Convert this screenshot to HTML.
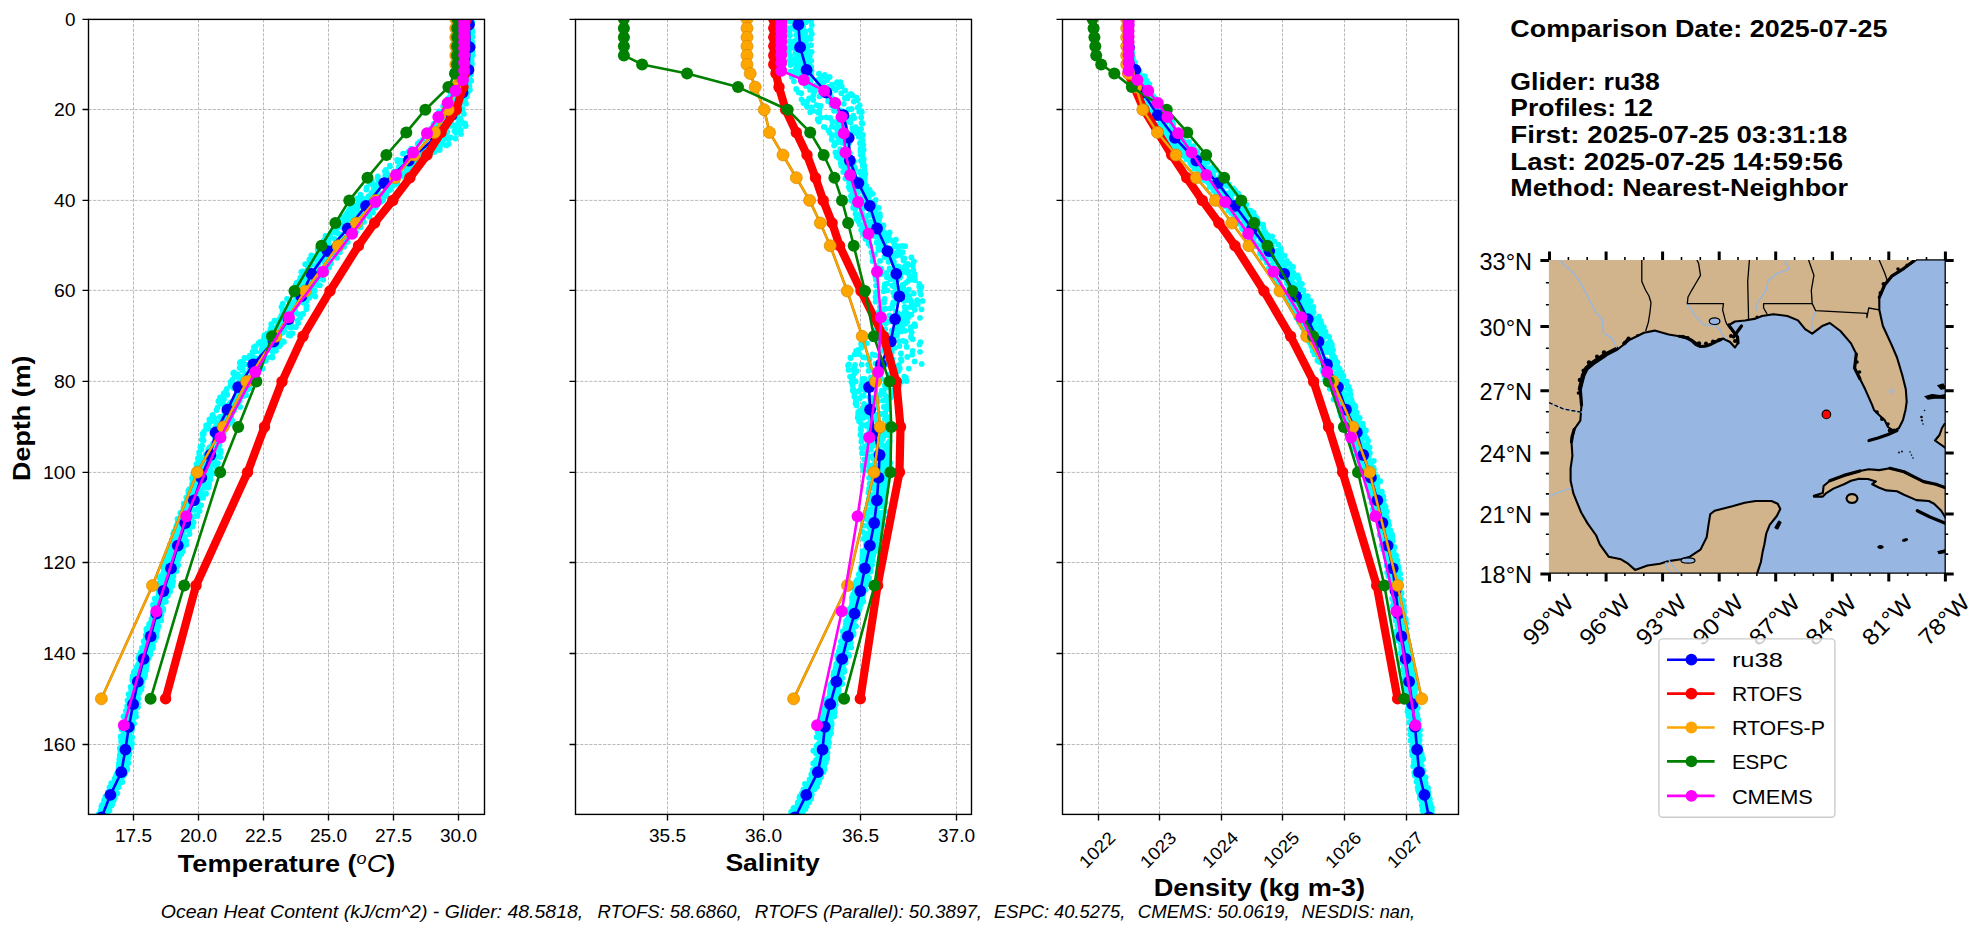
<!DOCTYPE html><html><head><meta charset="utf-8"><style>html,body{margin:0;padding:0;background:#fff;}svg{display:block;font-family:"Liberation Sans", sans-serif;}</style></head><body>
<svg width="1987" height="934" viewBox="0 0 1987 934">
<rect width="1987" height="934" fill="#fff"/>
<clipPath id="c0"><rect x="88.5" y="19.4" width="396" height="795"/></clipPath>
<path d="M133.5 19.4V814.4M198.5 19.4V814.4M263.5 19.4V814.4M328.5 19.4V814.4M393.5 19.4V814.4M458.5 19.4V814.4M88.5 19.4H484.5M88.5 109.5H484.5M88.5 200.4H484.5M88.5 290.4H484.5M88.5 381.4H484.5M88.5 472.4H484.5M88.5 562.5H484.5M88.5 653.5H484.5M88.5 744.5H484.5" stroke="#b0b0b0" stroke-width="0.87" stroke-dasharray="3.2 1.4" fill="none"/>
<g clip-path="url(#c0)">
<path d="M464.9 21.1h0M465.3 27.6h0M465.9 35h0M465 38.5h0M464.9 43.6h0M464.8 50.7h0M464 56.8h0M464.7 63.5h0M462.8 68.4h0M463.4 72.7h0M458.4 80.8h0M457.1 85.1h0M453.6 88.4h0M452.3 94.6h0M447.8 98.7h0M445.9 102.3h0M443.2 105.9h0M439 111.4h0M436.3 118.4h0M433.4 124.3h0M431.1 128.6h0M426.7 132h0M424.5 136.5h0M419.5 142h0M411.2 148.6h0M403.6 153.7h0M397.5 161.4h0M389.9 165.7h0M385.9 169.8h0M377.8 176.4h0M372 181.2h0M366.7 187.4h0M360.4 194.7h0M357.1 198.4h0M354 205.3h0M348.9 210.5h0M345.9 214.9h0M338.4 221.8h0M336.4 226.1h0M330.6 233.4h0M326.7 238.6h0M319.8 245.7h0M320.7 250.3h0M311.3 255.3h0M309.4 259.5h0M305.2 264.2h0M309.5 268.3h0M304.1 274.5h0M299.7 280.8h0M300.7 285.3h0M302.2 289.1h0M300.4 296.5h0M289.4 301.2h0M291.7 305.1h0M282.5 310h0M281.2 316h0M276.8 322.2h0M274.1 328h0M264.3 335.3h0M264 338.4h0M258.7 343h0M255.8 346.2h0M255.2 351.2h0M247.6 357.8h0M240.5 362h0M239.6 367.7h0M233.2 373.2h0M232.3 379.9h0M230.5 385.5h0M225.9 392.3h0M220.9 397.4h0M218.3 401.2h0M217.6 407.5h0M213 415.9h0M211.2 421.2h0M206.1 425.3h0M204 431.6h0M203.7 434.2h0M201.8 439.7h0M201.8 446.3h0M199.1 452.5h0M198 459h0M196.5 464.1h0M195.5 470.3h0M194 474h0M192 478.2h0M192.1 483.8h0M188.4 490.6h0M186.3 497.6h0M183.7 503.6h0M183.5 507.7h0M180.3 512.8h0M177.5 518.9h0M177.3 523.6h0M175.9 528.1h0M173.2 533.7h0M171.8 540h0M170 544.4h0M169.1 550.8h0M168.1 555.1h0M166.8 560.8h0M166.9 567.9h0M163 573.8h0M162.2 577.6h0M160.7 583.7h0M160.2 589.5h0M158.5 595.1h0M154.7 598.7h0M153 604.6h0M154.6 610.6h0M153.3 616.6h0M150.2 623h0M146.4 628.9h0M147 635.1h0M143.6 641.5h0M144.9 645.8h0M142.4 651.6h0M139.5 657.4h0M140.4 662h0M136.6 667.2h0M135.1 673.1h0M132.4 676.4h0M132.2 679.6h0M133 686.9h0M128.6 694.2h0M128.7 699.7h0M129.5 705.9h0M125.8 710.8h0M127.1 716.5h0M126 722h0M121.5 729.3h0M120.6 736.4h0M122 739.9h0M123.2 743.4h0M120.3 749.4h0M119.7 755.2h0M119.7 758.8h0M118.7 766.6h0M120.9 771.3h0M114.5 779h0M111.4 786.6h0M109.1 792.2h0M105.3 796.7h0M104 800.4h0M101.4 806.5h0M100.4 811.6h0M96.5 818h0M94.9 825.9h0M466.7 22.7h0M465.4 28.4h0M465.2 32.5h0M466.6 37.5h0M467.1 43.8h0M466.5 47.6h0M466.2 52.4h0M465.2 59.8h0M465.7 67.5h0M465.7 71.1h0M462.9 78.6h0M459.5 85.3h0M457.6 88.3h0M457.6 94.5h0M449.6 98.3h0M450.5 106.1h0M445.2 111.9h0M437.3 117.9h0M433.8 123.7h0M433 128.4h0M426.5 134.8h0M422.8 139.7h0M417.7 143.7h0M408.7 151.3h0M403 153.7h0M397.2 160h0M390 166.3h0M384.9 171.3h0M377.7 178h0M370.4 183.5h0M366.3 189.5h0M360.5 196.6h0M358.3 203.2h0M349.4 209.2h0M347.2 212.8h0M342.2 217.4h0M341.6 225.3h0M335.7 230.5h0M325.5 235.9h0M324.1 240.5h0M320 246.8h0M318 251.1h0M315.3 257.9h0M306.2 264.1h0M301.3 272h0M300.3 277.7h0M296.8 282.6h0M304.2 286.5h0M291.7 292.6h0M287 298.8h0M282.8 303.7h0M281.4 306.8h0M284.7 313.9h0M274.5 320.6h0M280.5 325.5h0M271.2 333.2h0M271 336.4h0M266.8 340.2h0M266.4 345.7h0M261.8 349.5h0M249.8 355.6h0M254.3 359.4h0M245.1 364.4h0M242.3 370.2h0M237.8 374.3h0M239.2 379.2h0M233.8 384.2h0M226 391h0M227.2 394.7h0M224 399.2h0M220.4 403.6h0M216.4 410.2h0M212.7 415.2h0M209.4 419.4h0M208.9 423.9h0M206.1 428.3h0M202.4 433.9h0M203.6 440.3h0M202.1 445.5h0M201.6 449.6h0M200.4 457.2h0M198.5 461.2h0M196.6 465.6h0M195.5 469.8h0M195.5 476.2h0M195 481.1h0M195.7 485.7h0M189.2 489.2h0M188.2 495.9h0M187.1 501.2h0M188.6 506h0M182.2 512.2h0M179.4 518.1h0M177.8 522.5h0M176.2 526.3h0M173.7 532.9h0M175.4 536.5h0M171.5 543.1h0M169.9 549.6h0M168.3 554.2h0M165.7 561.8h0M163.8 566.2h0M163.5 572.2h0M159.6 577.7h0M158.2 584h0M158.6 588.8h0M158.9 595.2h0M157.9 600.1h0M155.8 607.6h0M157 610.1h0M152.8 616h0M151.5 622h0M150.3 626.9h0M151.6 631.1h0M151.6 636.3h0M146.9 642.4h0M146.4 645.3h0M143.7 652.2h0M141.3 657.9h0M141.1 665.8h0M137.3 672.6h0M133.8 676.4h0M132.8 681.2h0M131.7 687.5h0M130.7 693.4h0M127.5 700.3h0M129.4 706.8h0M126.3 712.4h0M123.5 716.5h0M124.8 722.8h0M124.5 727.9h0M124.9 733.9h0M121.1 741.5h0M121.6 746.7h0M120.4 751.6h0M119.3 759.2h0M118.8 763.4h0M118.6 768.8h0M116.8 773.8h0M115.3 780.7h0M109.5 787.3h0M107.9 792.1h0M106.4 799.2h0M102.1 804.9h0M100.7 810.4h0M98.7 814.1h0M95.3 821.9h0M467 21.8h0M465.2 28.6h0M465.5 31.6h0M467.2 37.7h0M465.7 42.9h0M467 48.8h0M467.5 54.1h0M463.6 57.4h0M466.3 64h0M464 70.4h0M460.9 76.8h0M457.7 80.8h0M455.4 86.6h0M450.8 93.7h0M449.2 97.6h0M447.9 102.2h0M443.9 109h0M444.2 114.9h0M446.3 119.6h0M438.4 125h0M437.5 130.9h0M433.3 137.1h0M431.2 140.5h0M427.4 146.7h0M420.3 151.7h0M410.9 157.6h0M403.1 161h0M401.7 165.9h0M393.9 171.9h0M387 178.7h0M376.8 184.9h0M373.7 190.5h0M368.3 196.4h0M364.5 200.3h0M359.7 206.2h0M352.9 212.3h0M350.8 216.6h0M345.2 221.7h0M343.1 227.9h0M338.3 233.6h0M334.6 238.8h0M328.6 242.5h0M328.8 249h0M321.1 254h0M318.2 260.8h0M316.4 267.6h0M312.8 272.2h0M309 276.2h0M309.7 282.3h0M300.8 288.3h0M296.6 294.5h0M297 300.1h0M289.6 306.5h0M284.9 309.8h0M281.8 314.8h0M279.4 319.2h0M278.2 322.4h0M273 327.8h0M267.3 333.4h0M266.8 340h0M262.3 344h0M255.6 351.4h0M253.3 357.2h0M243.2 362.8h0M240.1 368h0M245.1 373.7h0M238.9 376.7h0M230.6 381.9h0M233.4 388.1h0M226.3 393.3h0M220 397.4h0M222 402h0M224.4 408h0M212.4 415.2h0M214.2 418h0M207.1 425.4h0M208.4 428.8h0M202.9 435.1h0M202.4 439.1h0M200.3 446.8h0M199.3 454.8h0M197.9 458.5h0M198.5 465.3h0M199.9 469.6h0M193 475.7h0M192.4 479.8h0M191.8 486.4h0M190.6 490.1h0M193.7 497.1h0M188.7 502.7h0M184.3 505.5h0M182.2 512h0M184.8 516h0M179.6 522h0M176.8 526.6h0M174.2 531.4h0M175.8 535.9h0M172.5 539.6h0M170.7 545.6h0M169.8 551.2h0M165.9 558.9h0M165.8 563.5h0M163.5 567.7h0M161.6 575.4h0M162.3 578.3h0M161.1 585.3h0M160.3 590.6h0M158.7 594.8h0M154.8 599.1h0M153.1 605.7h0M153.6 610.9h0M154.2 618.2h0M152.9 623.4h0M151.4 627.5h0M149.1 632.3h0M147.8 640h0M144.4 643.3h0M144.4 648.2h0M140.9 652h0M139.3 655.1h0M139.1 662.7h0M138.5 667.5h0M134.4 671.5h0M134.5 678.3h0M133.2 686h0M133.9 689.9h0M131.2 695.7h0M131.9 700.8h0M130.9 705.6h0M131.2 708.7h0M131.7 713.8h0M130.5 718.9h0M131.4 723.2h0M127.5 727.4h0M126.3 733.7h0M126.5 737.3h0M124.4 745.2h0M122.1 751.1h0M124 755.5h0M123.2 761.1h0M122.5 767.2h0M120.7 772.6h0M119.4 778.3h0M114.8 782.6h0M111.5 788.8h0M108.8 793.5h0M108.2 800h0M104.3 806.6h0M104.2 812.6h0M99.8 818.6h0M96.4 825h0M466.4 22.7h0M467.6 27.6h0M470.3 34.4h0M467.9 37.4h0M468.8 42.9h0M469.2 46.3h0M467.8 50.4h0M466.6 55.5h0M467.1 60.5h0M465.7 69h0M465.3 74.5h0M463.4 78h0M460.1 85.3h0M456.4 88.6h0M453.5 96h0M451.2 99.3h0M450.7 107.8h0M451.6 114.1h0M446.6 120.5h0M449.5 125.9h0M441.3 131.5h0M444.8 134.8h0M438.7 139.4h0M433.1 145.6h0M429.2 149.6h0M418.4 156h0M408.1 162.3h0M404.9 166.9h0M395.6 172.8h0M386.6 180.5h0M378.5 185.8h0M377.2 191.1h0M367.2 198.6h0M360.1 202h0M357.1 209.3h0M349.7 215h0M343.9 218.9h0M335.5 226.7h0M332.3 230.8h0M329.9 236.7h0M321.4 243.3h0M317.7 249h0M315.4 256.5h0M315.5 259.8h0M307.6 264.5h0M307.7 268.8h0M305.4 275.7h0M303.2 279.2h0M295.6 284.9h0M293.6 291.6h0M295.9 296.3h0M290.5 301.5h0M291.7 306.3h0M286.1 311.2h0M281.3 317.7h0M271.2 324.2h0M272.3 331.4h0M264.1 337.1h0M260.1 342h0M253.9 347.1h0M252.5 351.8h0M244.4 358h0M239.8 362.8h0M242 367.9h0M234.1 372.4h0M234.5 376.6h0M232.1 383.2h0M226.8 388.8h0M223.7 393.4h0M221.3 397.4h0M223.6 404.6h0M224.3 411.4h0M219.9 417h0M222.9 422.9h0M216.2 425.7h0M212.3 433.2h0M217.1 437.1h0M213 443.5h0M209.6 447.1h0M208.9 453.2h0M207.1 458.1h0M205.2 464.4h0M202.2 470.8h0M203.4 477.6h0M199.7 484.3h0M195.8 490.6h0M188.4 492.9h0M192.1 499.5h0M191.7 504.4h0M186.4 509.6h0M188.7 514.3h0M180.5 518.3h0M183.1 525.4h0M183.5 531.3h0M179.5 538.6h0M178.2 544.6h0M175.6 551.8h0M176.2 555h0M173.8 560.3h0M170.8 563.6h0M167 568.2h0M171.3 575.2h0M166.9 580.1h0M162 584.7h0M158.7 590.9h0M159.6 596.7h0M160.1 600.9h0M159.8 604.2h0M154.1 611.5h0M151.9 618.8h0M149.1 624.1h0M148.6 626.8h0M146.6 630.9h0M146.8 637h0M144 641.2h0M143 647.6h0M141.7 651.8h0M140.8 658.6h0M137.6 665.4h0M133.8 672.2h0M134.6 677.2h0M132.8 680.6h0M130.6 687h0M131.2 690.4h0M129.8 696.2h0M128.6 701.5h0M127.1 706.1h0M127.2 714.2h0M126 721h0M123.4 725.2h0M124.2 728.8h0M123.4 732.9h0M121.2 738.6h0M122.1 742h0M119.8 748.2h0M120.1 754.5h0M120.2 757.7h0M119.8 764.3h0M117.5 772.6h0M115.6 776.7h0M111.2 783.2h0M110.3 791.4h0M106.8 798h0M102.7 804.6h0M102.4 808.7h0M104.3 813.8h0M99.8 820.8h0M98.5 825.2h0M469 23.2h0M467.2 30.1h0M467.5 35.7h0M468.8 40.1h0M467.4 45.1h0M468.6 52.6h0M469.2 57.4h0M467.9 62.9h0M467.3 66.3h0M467.4 73.9h0M464.3 79.8h0M462.6 84.2h0M457.2 89.8h0M457.4 95.1h0M457.1 102.7h0M454.2 108.7h0M449.8 114.8h0M451.9 118.2h0M444.4 123.7h0M444.5 128.3h0M435.3 134.1h0M433.7 140.4h0M426.1 144.4h0M424.6 150.8h0M410.6 154.5h0M400.6 160.7h0M398.8 166.9h0M394 171.7h0M385.3 175.6h0M378.7 181.8h0M373.6 186.1h0M371.4 192.9h0M362.4 198.2h0M361.8 203.7h0M351.4 208.1h0M352.9 215.8h0M344.4 220.8h0M337.6 227.7h0M336 232.7h0M328.4 240.2h0M322.6 243.7h0M325.3 248.9h0M320.6 252.9h0M314.5 259.1h0M311.6 264.6h0M302.6 271.4h0M306.4 278.9h0M303.9 285.7h0M297.2 291.9h0M295.8 297.7h0M295.6 302.3h0M292.8 310.4h0M286.9 314.8h0M283.5 320.3h0M278 324.9h0M279.3 330.8h0M274.5 337.2h0M270.7 342.4h0M262.1 347.1h0M261.6 353.6h0M253.4 359.3h0M257.5 364.7h0M242.8 369.3h0M240.2 376.6h0M240.9 381.4h0M239.3 386.3h0M237.9 392.3h0M238.4 398.2h0M232.3 401.6h0M227.5 406.4h0M230.7 411.3h0M223.1 416.6h0M221.9 420.1h0M222.2 425.9h0M214.6 430.2h0M215.7 434.6h0M216.7 439h0M215.5 444.2h0M208.2 449.4h0M205.7 454.6h0M203.1 459.6h0M203.1 463h0M199.5 471.1h0M197.6 477.4h0M194.1 484.2h0M194.3 491.3h0M191.7 494.5h0M195.1 499.3h0M190.5 505.8h0M187.3 510.7h0M184.4 517.4h0M178.6 522.8h0M177 529.9h0M175.1 534.9h0M174.6 537.5h0M174.5 545.6h0M172.3 551h0M171.1 555.7h0M168 559.4h0M166.5 565.5h0M165.2 569.6h0M167.7 574.3h0M160.4 581.3h0M163.1 586.1h0M160.1 588.8h0M161.5 593.6h0M156.8 600.9h0M153.5 605.7h0M154.3 608.6h0M155.5 613h0M155.4 617.4h0M153.8 624h0M151.9 628.3h0M149.9 635.3h0M150.1 641.8h0M144.9 648.2h0M145.2 652.4h0M144 655.8h0M140 662.6h0M139.8 667.3h0M139.7 672.5h0M138.4 677.5h0M136.4 683.1h0M137.9 686.2h0M135 694.9h0M134.2 698.5h0M132.3 702.7h0M130.9 708.3h0M132 714.6h0M128.9 721.3h0M129.6 727.6h0M126.9 734.3h0M128.1 740.1h0M124.3 745.1h0M125.1 752h0M123 758h0M122.3 765.3h0M121.6 768.6h0M117.8 773.8h0M115.9 780.6h0M113.9 785.5h0M111.1 792.7h0M106.6 797.5h0M106.3 801.6h0M103.1 808.1h0M100.4 811.9h0M97.9 817.9h0M95 822.7h0M467 18.5h0M467.5 24.7h0M466.7 29.2h0M466.1 35.2h0M466.3 41.9h0M467.6 45.2h0M464.3 50.7h0M466.1 58.3h0M465.4 64.4h0M467.1 68.8h0M464.5 73h0M461.7 79.4h0M461.9 83.7h0M460 88.1h0M457.5 95.2h0M454.4 100.1h0M454.6 105.6h0M450.2 112.4h0M450.4 115.4h0M451.4 123.1h0M445.7 128.8h0M443.3 133h0M443.4 139.7h0M433.1 145.1h0M423.2 150.9h0M412.3 157.4h0M403.1 164h0M398.4 168.7h0M387.3 173.9h0M381.5 181.5h0M376.4 186.4h0M374.9 190.5h0M370 197.1h0M361.7 201h0M358.4 206h0M360 213.4h0M348.7 219.3h0M352.5 224.5h0M344.7 228.7h0M341.5 234.8h0M337.4 241.6h0M338.8 245.9h0M330.6 251.2h0M326.3 254.7h0M325.4 259.3h0M318 264.2h0M314 271.1h0M321 276.3h0M313.9 282.8h0M310.3 289.7h0M311.9 294.8h0M299.2 300.1h0M297.2 304.4h0M295.2 310.7h0M291.4 316.1h0M286.2 323.7h0M280.2 328.8h0M276.4 334.8h0M276.9 341h0M270.7 348.2h0M261 352.5h0M256.9 358.3h0M249.9 364.4h0M249.4 369.4h0M248.8 377.3h0M241.9 382.9h0M242 387.9h0M244.2 391.5h0M235.7 397.9h0M230 403.2h0M231.5 408.7h0M227.6 412.9h0M231.2 417.6h0M226.9 420.4h0M226.2 425.2h0M222.6 428.7h0M219.2 435.3h0M220.1 440.9h0M213.3 446.6h0M213.9 453.8h0M205.3 459.5h0M201.4 468h0M203 471.8h0M203.7 476.5h0M199.7 481.1h0M196.5 489h0M194.2 491.7h0M195 495.9h0M188.7 500.7h0M189.6 507.7h0M186.3 512.3h0M184.9 516.7h0M185 520.5h0M181 524.8h0M180.2 529.8h0M179.9 537.1h0M176.6 542.7h0M174.9 548.8h0M174.9 552.7h0M171.5 555.5h0M171.6 563.3h0M171.7 567.8h0M168.6 575.8h0M164.4 580.6h0M163.2 587.7h0M160.5 591.1h0M161 595.3h0M156.2 599.2h0M154.7 605h0M155.1 612.7h0M151.5 618.8h0M150.3 625.3h0M148.3 629.6h0M145.7 635.2h0M145.3 639.5h0M142 647.8h0M141.6 652.3h0M138.4 657.9h0M139.8 663.7h0M140.3 672.2h0M137 677.1h0M133.4 684.9h0M135.5 688.8h0M133.3 695.6h0M131.5 700.4h0M129.9 708.8h0M130.3 713.6h0M129.2 717.3h0M128 722.4h0M128.3 728h0M125.1 735.4h0M123.7 740.9h0M124.5 744.6h0M123.1 751.6h0M123.1 758.5h0M122.2 764.7h0M122.9 768.8h0M118.5 776.3h0M116.3 780.2h0M114.6 785.3h0M111.5 789.9h0M110 794h0M105.8 800.8h0M107.2 804.8h0M103.5 811.6h0M101.9 817.3h0M101.2 822.4h0M467 21.9h0M468.4 26.8h0M467.2 31.2h0M468.8 35h0M470.1 42.4h0M469.9 47.4h0M467.3 53.2h0M469 60.1h0M467.7 68.3h0M464.3 74.6h0M465 78.8h0M464.9 83.7h0M462.9 90.3h0M459.5 95.7h0M458 101.8h0M460 106.2h0M452.6 109h0M448.2 115.2h0M448 119.2h0M453.1 125.2h0M454.8 131.4h0M444.5 136.3h0M442.6 141h0M439.9 147.5h0M431 152.7h0M422.3 157.6h0M411.3 164.5h0M406.7 170.6h0M403 173.4h0M394.4 179h0M385.2 183.6h0M377.7 190.6h0M374.7 194.6h0M371 199.1h0M366.8 203.9h0M364.4 209.1h0M355 215.4h0M354.1 219.9h0M348.2 225.3h0M347.5 229.7h0M341.1 235.4h0M335.9 240.3h0M330.3 247.3h0M326.9 252.8h0M318.8 256.9h0M317.6 265.1h0M316.6 271.4h0M309.3 276h0M305.2 280.7h0M303.1 285.1h0M301.5 290.7h0M302 295.8h0M296.1 299.3h0M293.5 304.8h0M290 310.1h0M284.6 314.5h0M285.7 319.5h0M282 324.9h0M270.5 328.9h0M271.6 335.2h0M271.6 342h0M265.1 347.2h0M261.5 352.9h0M260.9 357.7h0M253.3 365.1h0M252.6 369.2h0M255.5 373.2h0M250.2 377.3h0M246.2 383.3h0M247.6 389.6h0M239.7 394.8h0M238.4 401.2h0M237.8 404.9h0M234 410.6h0M226.5 416.1h0M225.1 422.4h0M221.6 428.8h0M217.2 433.4h0M216.7 438.1h0M217.3 443.3h0M215.6 448.7h0M212.4 454h0M212.9 461.9h0M204.6 466.5h0M205.9 472.4h0M210.1 477.2h0M201 481.3h0M199.2 486.4h0M198.4 491.2h0M194.7 496.1h0M193.9 502.9h0M189.7 509.9h0M189.4 513.7h0M187.2 519.8h0M182.6 528.3h0M176.7 533.6h0M177.3 539.9h0M173.6 543.8h0M172.4 549.9h0M171.8 553.9h0M171.5 560.3h0M168.7 565.2h0M169.3 569.5h0M167.3 576.2h0M163.5 581.3h0M164 585.7h0M161.2 592.7h0M159.6 599.5h0M158.5 605.9h0M160.3 607.7h0M158.2 613.6h0M155.8 616.2h0M156.4 622.3h0M151.8 628.2h0M150.8 632.9h0M149.3 641.3h0M148.8 644.5h0M148 649.2h0M146.5 656.4h0M141.1 663.2h0M144.4 667.7h0M141.6 670.8h0M140.7 675.9h0M137.8 680h0M135.2 686.4h0M136.4 691.5h0M137.7 697.8h0M137.3 703.2h0M134.7 707.6h0M135.8 713h0M134.1 717.1h0M131.7 722.5h0M131.2 726.1h0M129.7 732.1h0M130.8 737h0M126.7 741.8h0M127.3 745.6h0M125.1 751.2h0M125.1 758.8h0M121.8 763.3h0M120.1 767.2h0M120.9 773.2h0M117.7 777.7h0M113.8 783.1h0M112.4 788.3h0M108.3 795.9h0M106.8 801.7h0M105.7 806.4h0M104.2 811.6h0M101.9 815.9h0M101.1 820.9h0M467.9 20.6h0M465.8 25h0M468.8 31.8h0M467.3 36.4h0M469.8 44.5h0M469.4 50.1h0M469.2 56.8h0M469.4 60.2h0M469.9 65.9h0M469.9 71h0M467.6 76.4h0M467.2 82.4h0M467.3 86.4h0M466 91.9h0M462.6 96.5h0M463.9 99.7h0M459.3 105h0M461.2 109.6h0M457.3 117.8h0M465.1 123.5h0M458.9 126.9h0M460.5 130.6h0M448.7 138.9h0M446.4 145.4h0M434 150.8h0M421.5 156.9h0M417.2 160.2h0M407 166.2h0M399.7 173.9h0M395.6 177.9h0M382.8 185.7h0M378 192h0M367.9 197.8h0M367.5 202h0M363 206.8h0M359.2 212.3h0M354.6 218.9h0M348.7 225.9h0M348.4 231.5h0M341.1 234.9h0M343.2 240h0M335.4 244.8h0M329.4 250.3h0M328.1 252.9h0M319.5 260.2h0M318.4 263.8h0M323.6 268.7h0M313.7 276h0M306.8 280h0M310.3 284h0M302.5 289.4h0M304.5 296.1h0M297.1 304.3h0M294.2 308.9h0M293.1 312.6h0M291.8 319.3h0M285.7 322.8h0M279.7 327.6h0M282.4 332.8h0M275.2 338.6h0M273.9 345.7h0M271 350.3h0M262.4 355.6h0M257.7 360.7h0M252.3 365.5h0M255.1 370.2h0M252.6 376.1h0M249.5 380.5h0M242.2 386.2h0M239.2 392.5h0M241.4 396.4h0M230.5 402.7h0M233.4 408.6h0M229.6 413.7h0M232.2 420.4h0M222.7 428.2h0M213.7 433.8h0M219.1 440h0M216.6 446.6h0M220.3 450.8h0M209.9 457h0M208.4 463.2h0M205.4 468h0M208.7 472.7h0M202.2 478.8h0M200.6 483h0M197.5 487.4h0M196.9 492.2h0M192.2 498h0M191.5 504.3h0M188.5 510.6h0M189.9 515h0M182.2 521.6h0M181.9 526.2h0M182.3 529.8h0M180.7 537.1h0M177 542.6h0M176.2 547.5h0M176.7 550.8h0M172.9 556h0M170.7 563h0M174.1 568.7h0M170 574.8h0M168.5 581.4h0M167.4 585.1h0M165 593.1h0M166.3 596.8h0M164.7 602.1h0M161.9 607.1h0M159.8 610.1h0M158.7 616.4h0M156.7 622.2h0M156.1 628h0M154 635.2h0M154.1 639h0M151.3 646.5h0M146.2 650h0M148.6 655.5h0M144.4 661h0M143.8 668.1h0M141.9 672.1h0M141.1 676.9h0M139.4 682.1h0M136.5 689.4h0M135.7 694h0M133.2 697.3h0M132.1 704.2h0M131.3 708.6h0M129.6 715h0M126.6 718.7h0M127.2 725.9h0M127.4 733h0M124.3 739.3h0M122.3 745.5h0M124.1 749.7h0M123.5 754.6h0M121.7 760.3h0M124 766.4h0M120.4 773.1h0M118.2 780.2h0M115.7 786h0M111.8 791.9h0M112.1 798.7h0M111 804.8h0M108.8 808.4h0M105.7 813.4h0M104.7 819.6h0M469.7 20.1h0M467.1 23.6h0M468.2 30.9h0M469.3 37.5h0M467.8 40.7h0M469.5 48.1h0M469.6 52.3h0M466.6 56.7h0M467.4 61.9h0M469.9 66.8h0M466.5 73.7h0M466.1 79.3h0M460.5 85.4h0M461 89.2h0M460.8 92.4h0M458.5 98.1h0M457.1 101h0M456.3 107.4h0M454.9 113h0M453.7 117.6h0M458 123.2h0M455.4 127.2h0M447.3 132h0M446.7 137.5h0M442.3 143.3h0M437.9 149.2h0M434.3 152.1h0M426 157h0M413.1 161.6h0M413.3 164.8h0M408.5 170.8h0M401.3 175.1h0M397.4 180.1h0M392.1 186.6h0M384.2 193.9h0M380.7 200.6h0M373.4 205.1h0M369 211.5h0M362.8 215.4h0M356.3 220.5h0M354 227.2h0M352.9 233.2h0M346.2 238h0M340.9 243.3h0M333.4 248.9h0M333.2 254.3h0M324.6 262h0M327.9 266h0M326 273.3h0M316.9 279.7h0M312.3 287.5h0M309.2 289.5h0M309.4 297.8h0M302.7 302.6h0M306.3 309.3h0M302.5 313.9h0M297.6 320.7h0M295.9 327.1h0M284.6 330.6h0M289.5 333.8h0M281.8 341.1h0M275.8 346.5h0M272.8 352h0M267.1 357.7h0M261 361.7h0M257.6 367h0M252.7 371.1h0M250.6 377.5h0M244.8 382.7h0M239.4 388.8h0M238 393.6h0M234.4 400.9h0M227.1 405.7h0M224.4 411h0M221.1 416.9h0M216.5 422.1h0M215.1 427.5h0M216.8 432.5h0M214.6 436.8h0M217.6 442.4h0M215.1 447.5h0M209.3 453h0M211 458.5h0M212.7 462.6h0M209.8 467.5h0M207.2 472.8h0M204.2 477.6h0M204.6 483h0M200.1 488.4h0M199.3 496.7h0M196 502.4h0M196.8 509.6h0M188.6 515.4h0M188.1 521.1h0M183.9 528h0M182.1 535.8h0M180 538.5h0M178.7 544.8h0M176.4 551.7h0M174.3 558.9h0M173.4 565.4h0M169.9 570.5h0M166.2 576.2h0M165.6 581.3h0M162.1 586.3h0M163.8 592.4h0M162.3 598.9h0M157.7 605.6h0M159.3 609.9h0M159.4 617.7h0M156.7 624.5h0M157.6 630h0M155 632.6h0M153.1 639.5h0M151.9 645.9h0M148.4 651.9h0M148.7 658h0M145.8 664.4h0M142.9 669.1h0M145.1 675.3h0M141 681.1h0M141.8 686.4h0M137.8 692.1h0M136.1 696.8h0M135.6 701.6h0M138 706.9h0M133.7 710.2h0M133 716.1h0M132.3 720.7h0M130.2 726.1h0M130.5 731.6h0M129.6 737h0M129.1 742.4h0M128.6 746.6h0M128.5 751.1h0M128.1 758.3h0M126.8 765h0M124.8 768.9h0M123.8 775.5h0M122.3 782.1h0M116.9 786.7h0M117.3 793.2h0M112.6 798.1h0M111.7 805.5h0M108.5 809.9h0M105.5 817h0M103.4 822h0M472.2 22.2h0M470.3 27h0M472.1 30.2h0M469.2 37.3h0M471.5 44h0M472 49.7h0M471.7 55.8h0M469 61h0M471.5 66.7h0M469.5 73.5h0M469.2 76.4h0M471.3 80.7h0M467.7 86.9h0M469.9 90h0M462.1 96.9h0M466 103.7h0M461.5 108.8h0M464 113.9h0M460.9 120h0M463.8 123.7h0M460.9 129.9h0M461.1 134.1h0M455.5 138.5h0M448.6 144h0M439.7 150h0M426.9 156.6h0M421.2 163.5h0M412.4 168.1h0M410.1 171.6h0M397.8 178.6h0M393.4 183.1h0M390.6 189.2h0M386.5 194h0M383.3 199.9h0M376.5 204.2h0M371.3 210.6h0M363.5 217.6h0M359.6 224.1h0M353.2 231.3h0M346.9 238.5h0M337.9 243.7h0M328.6 250.3h0M329.1 254.7h0M329.6 260.7h0M316.7 265.3h0M314 271.2h0M314 276.7h0M306.9 281.2h0M306 288.7h0M302.5 295.4h0M302.4 300.1h0M295.4 306.5h0M291.6 310.8h0M290.1 315.6h0M291.2 322.2h0M285.3 326.3h0M282.5 330h0M278 335.1h0M275.3 338.9h0M271.1 345.6h0M266.7 349.4h0M263 356h0M262.9 361.8h0M254.5 367.4h0M252.6 372.3h0M249.7 378.5h0M242.7 382.7h0M246.8 387.9h0M239.1 394.2h0M235.8 400.5h0M240.1 407h0M233.3 409.7h0M228.4 415.7h0M221.7 422.2h0M220.9 429.2h0M219.7 436.6h0M218.6 441.8h0M217.7 449.7h0M220.7 452.6h0M210.3 459.3h0M212.9 464.3h0M210.7 470.2h0M205.3 474.4h0M201.5 478.9h0M204.4 485h0M202.6 487.2h0M198.7 494.4h0M198.5 498.7h0M197.9 504.3h0M193.6 509.9h0M192.5 516.9h0M191.3 523.3h0M187.8 529h0M185 536.9h0M184.7 542.6h0M182.9 547.4h0M181 552.5h0M177.5 558.7h0M178.3 565.1h0M176.5 571.1h0M173.4 576.2h0M172.9 582.7h0M170.1 586.2h0M170.1 591.5h0M167.9 595.6h0M165.1 601.1h0M163.2 608.9h0M161.5 614.4h0M161.2 620.5h0M156.7 626.7h0M156.6 630.4h0M156.3 634h0M153.8 640.3h0M152.9 648h0M150.6 650.7h0M148 657.7h0M146.8 662.7h0M146.1 669.1h0M145.1 673.1h0M144.1 677.7h0M140.4 686h0M138 690.4h0M137 697.6h0M137.9 703.6h0M132.7 711.2h0M133.4 717.8h0M131.1 721.3h0M132.2 725.6h0M131.7 730.5h0M129.8 734.9h0M131.7 742.5h0M128.1 747.8h0M129.5 752.7h0M128.5 755.3h0M126.2 761.9h0M126.9 767.9h0M124.4 771.1h0M122.1 777.1h0M118.1 781.3h0M118.7 786h0M115.4 790.8h0M114.7 797.5h0M112.1 804.5h0M107.4 808.9h0M107.1 813h0M103 821h0M101.9 825.4h0M470.4 21.5h0M470.1 28.4h0M472.5 32.2h0M472.7 36.8h0M472.1 42.1h0M472.9 47.2h0M471.7 52.9h0M471.4 57.3h0M470.2 64.1h0M469.7 68.1h0M469.6 73.2h0M469.4 75.5h0M468 81h0M469.4 85.7h0M466.6 88h0M467.8 92.4h0M465 99.9h0M459.7 104.6h0M462.5 109.2h0M463.3 113.6h0M460.2 118.7h0M465.7 126h0M456 132.8h0M447.7 137.9h0M440.6 144.8h0M436.7 148.2h0M430.9 153.3h0M417.6 158.7h0M415.2 164.9h0M408.8 169.5h0M404 174.1h0M397.5 178.8h0M397.3 183.4h0M387.9 187.8h0M382.7 194.3h0M379.2 199.8h0M374.7 202.7h0M367.2 207.9h0M371.7 212.5h0M362.4 217h0M356.2 223.9h0M356 231.8h0M346.8 237h0M342.3 243.5h0M340.2 249.4h0M335.1 254.9h0M330 262h0M329.1 267.5h0M324 274.5h0M320.6 278.6h0M317.6 285h0M313.8 291.7h0M310.1 294.8h0M306.8 301.1h0M306.8 306.3h0M303 313.9h0M300.1 317.8h0M298.2 323.1h0M290.6 327.7h0M290.3 335.5h0M283.1 341.2h0M280.3 344.9h0M272.5 351.4h0M272.1 356.4h0M265.9 360.7h0M262.6 368.5h0M254.5 375.2h0M250 382h0M249.9 388.2h0M246.1 395.2h0M239.8 400.9h0M237 404.5h0M232.3 412.5h0M229.6 417.8h0M228.3 424.6h0M222.4 429.9h0M220.4 436.8h0M218.7 440.5h0M219.5 445.3h0M219.4 450.3h0M216.1 456.6h0M214.4 459.3h0M212.3 464.8h0M211 470.7h0M207.6 475.2h0M209.8 480h0M205.9 484.1h0M203.3 487.9h0M201.2 493.2h0M197.9 499.6h0M197.9 503.3h0M197.4 510.1h0M195.3 516h0M191.8 519.9h0M189.1 528.2h0M189.2 531.5h0M183.7 539.1h0M182.2 546h0M182.8 551.6h0M179.3 556.7h0M175.6 562.7h0M175.7 569.7h0M171.9 576.7h0M173.1 581.1h0M172.2 585.9h0M170 589.6h0M167.4 594.8h0M165.9 601.6h0M163 610.5h0M161 616.4h0M160 620.7h0M158.7 626.3h0M157 630.5h0M155.4 636.2h0M154.4 640.5h0M153 645.8h0M150 652.7h0M148.2 655.3h0M146.8 659.4h0M146.2 667h0M142 672.2h0M139.2 676.3h0M142.1 682h0M136.5 688.2h0M139.5 692.8h0M138.3 698.7h0M136.9 704.7h0M134.6 710.4h0M133.1 714.1h0M133.1 718.7h0M132 723.5h0M132 728.9h0M128 734.9h0M128.4 740.7h0M128.4 748.1h0M125.5 754.4h0M125.8 758.2h0M122.9 762.3h0M124.7 769h0M122.1 774.2h0M120.8 778.9h0M117.7 784.7h0M114.9 789.2h0M113.8 794.2h0M111.7 801.4h0M108.1 805.7h0M107.4 809.2h0M105.9 816.9h0M104.2 822.7h0M471.2 21.3h0M471.4 25.7h0M471.4 30.3h0M471.5 36.3h0M471.9 41.1h0M473.3 46.6h0M472.7 51.3h0M472.8 55.3h0M471.7 60.5h0M471.9 63.9h0M470.9 71.3h0M471 74.4h0M468.6 80.6h0M469.1 87.8h0M467.7 92.3h0M466.9 96.6h0M463.7 101.6h0M459.4 107.7h0M457.4 113.8h0M457.2 117.5h0M453.4 125.4h0M454.4 130.9h0M450.5 137.4h0M437.3 142.5h0M434.4 146.9h0M426 153.7h0M418.8 158.5h0M408.9 164.4h0M409 171.6h0M403.1 176.5h0M395.5 184.6h0M388.9 190.2h0M386.2 195.8h0M381 201.7h0M375.9 207.5h0M373 212.7h0M369.4 216.8h0M363.9 221.9h0M360.6 227.2h0M353.3 235.5h0M347.7 242h0M344.2 246.7h0M339.9 252.3h0M337 257.8h0M331 263.2h0M326.5 270.3h0M326.2 272.5h0M323.3 279.7h0M319.9 285.3h0M314.9 290.6h0M315.3 296.5h0M305.6 302.2h0M306.4 306.7h0M298.1 314.1h0M297.6 320.6h0M294.9 327.1h0M292.5 333.3h0M288.7 335.3h0M283.9 341.9h0M279.2 346.2h0M276 350.7h0M272.4 357.6h0M261.3 363.1h0M260.1 366.8h0M257 370.8h0M253 377.6h0M249.9 383.3h0M248.7 387.7h0M243.6 396h0M238.1 398.7h0M235.3 402.9h0M231.6 407.9h0M231.7 412.2h0M229 418.2h0M230.3 422.8h0M226.3 426.4h0M223.6 433.5h0M220.1 439.7h0M219.1 443.3h0M220.6 450.6h0M220.2 457.1h0M217.9 463.1h0M216.6 467.1h0M213.9 473.2h0M210.4 479.5h0M209.1 484.4h0M208.2 487.7h0M206 493.7h0M203.1 497.7h0M201.1 505.3h0M199.6 511h0M197.5 515.8h0M193.6 522.5h0M192.6 526.5h0M189.5 534h0M186.2 541h0M186.2 544.8h0M182.1 547.7h0M181.3 554.1h0M178 560h0M177.6 566.3h0M173.1 571h0M172.8 575.4h0M168.9 578.6h0M167.5 583.5h0M168.6 587.8h0M167.1 593.6h0M162.9 599.6h0M161.5 605.4h0M163.1 610.1h0M160.2 616.3h0M158.7 619.3h0M157.6 625.6h0M156.1 630.5h0M156.4 636.9h0M152.5 642.3h0M148.6 647.5h0M150.3 654.6h0M147.4 660.4h0M146.9 665.3h0M146 670.2h0M140.9 676.7h0M140.8 684.4h0M141.4 689.5h0M137.8 695.8h0M138 703.3h0M136.9 706.7h0M135.5 711.8h0M136 716.7h0M134.1 723.6h0M131.8 730h0M132.2 737.5h0M132 743.7h0M131.3 747.8h0M129.3 754.4h0M127.8 757.9h0M128.4 763h0M127.3 769.5h0M125.3 773.3h0M121.9 780.9h0M118.4 787.2h0M115.7 793.3h0M113.7 800.5h0M111.6 804.8h0M109.5 810.4h0M105.9 816.1h0M102.8 821.7h0" stroke="#00ffff" stroke-width="5.8" stroke-linecap="round" fill="none"/>
<polyline points="469,24.5 469.5,47.2 468.5,69.9 462.5,92.5 451.5,115.2 435.6,137.8 408.8,160.5 384.2,183.1 366,205.8 347.8,228.5 327.5,251.1 311.4,273.8 301.3,296.4 288.5,319.1 273.5,341.7 253.2,364.4 238.2,387.1 227.5,409.7 215.7,432.4 210.3,455 201.3,477.7 193.9,500.3 185.3,523 177.8,545.6 171,568.3 163.4,591 156.4,613.6 150.6,636.3 143.6,658.9 137.8,681.6 133.1,704.2 128.8,726.9 125.4,749.6 121.3,772.2 110.4,794.9 101.5,817.5" fill="none" stroke="#0000ff" stroke-width="2.6" stroke-linejoin="round"/><g fill="#0000ff"><circle cx="469" cy="24.5" r="5.9"/><circle cx="469.5" cy="47.2" r="5.9"/><circle cx="468.5" cy="69.9" r="5.9"/><circle cx="462.5" cy="92.5" r="5.9"/><circle cx="451.5" cy="115.2" r="5.9"/><circle cx="435.6" cy="137.8" r="5.9"/><circle cx="408.8" cy="160.5" r="5.9"/><circle cx="384.2" cy="183.1" r="5.9"/><circle cx="366" cy="205.8" r="5.9"/><circle cx="347.8" cy="228.5" r="5.9"/><circle cx="327.5" cy="251.1" r="5.9"/><circle cx="311.4" cy="273.8" r="5.9"/><circle cx="301.3" cy="296.4" r="5.9"/><circle cx="288.5" cy="319.1" r="5.9"/><circle cx="273.5" cy="341.7" r="5.9"/><circle cx="253.2" cy="364.4" r="5.9"/><circle cx="238.2" cy="387.1" r="5.9"/><circle cx="227.5" cy="409.7" r="5.9"/><circle cx="215.7" cy="432.4" r="5.9"/><circle cx="210.3" cy="455" r="5.9"/><circle cx="201.3" cy="477.7" r="5.9"/><circle cx="193.9" cy="500.3" r="5.9"/><circle cx="185.3" cy="523" r="5.9"/><circle cx="177.8" cy="545.6" r="5.9"/><circle cx="171" cy="568.3" r="5.9"/><circle cx="163.4" cy="591" r="5.9"/><circle cx="156.4" cy="613.6" r="5.9"/><circle cx="150.6" cy="636.3" r="5.9"/><circle cx="143.6" cy="658.9" r="5.9"/><circle cx="137.8" cy="681.6" r="5.9"/><circle cx="133.1" cy="704.2" r="5.9"/><circle cx="128.8" cy="726.9" r="5.9"/><circle cx="125.4" cy="749.6" r="5.9"/><circle cx="121.3" cy="772.2" r="5.9"/><circle cx="110.4" cy="794.9" r="5.9"/><circle cx="101.5" cy="817.5" r="5.9"/></g>
<polyline points="466.5,19.1 464.8,28.2 464.7,37.2 464.6,46.3 464.6,55.4 464.5,64.4 464.5,73.5 463,87.1 456.3,109.7 441,132.4 427,155 409.9,177.7 392.8,200.4 374.6,223 358.5,245.7 330,291 303,336.3 282,381.6 264.5,426.9 247.6,472.2 196,585.5 165.6,698.8" fill="none" stroke="#ff0000" stroke-width="8.2" stroke-linejoin="round"/><g fill="#ff0000"><circle cx="466.5" cy="19.1" r="5.7"/><circle cx="464.8" cy="28.2" r="5.7"/><circle cx="464.7" cy="37.2" r="5.7"/><circle cx="464.6" cy="46.3" r="5.7"/><circle cx="464.6" cy="55.4" r="5.7"/><circle cx="464.5" cy="64.4" r="5.7"/><circle cx="464.5" cy="73.5" r="5.7"/><circle cx="463" cy="87.1" r="5.7"/><circle cx="456.3" cy="109.7" r="5.7"/><circle cx="441" cy="132.4" r="5.7"/><circle cx="427" cy="155" r="5.7"/><circle cx="409.9" cy="177.7" r="5.7"/><circle cx="392.8" cy="200.4" r="5.7"/><circle cx="374.6" cy="223" r="5.7"/><circle cx="358.5" cy="245.7" r="5.7"/><circle cx="330" cy="291" r="5.7"/><circle cx="303" cy="336.3" r="5.7"/><circle cx="282" cy="381.6" r="5.7"/><circle cx="264.5" cy="426.9" r="5.7"/><circle cx="247.6" cy="472.2" r="5.7"/><circle cx="196" cy="585.5" r="5.7"/><circle cx="165.6" cy="698.8" r="5.7"/></g>
<polyline points="455.8,19.1 455.8,28.2 455.8,37.2 455.8,46.3 455.8,55.4 455.8,64.4 456,73.5 455,87.1 448.2,109.7 434.5,132.4 414.2,155 395,177.7 375.7,200.4 356.4,223 338.2,245.7 305.3,291 275.7,336.3 246.7,381.6 223.2,426.9 197.3,472.2 152.5,585.5 101.4,698.8" fill="none" stroke="#c98300" stroke-width="2.7" stroke-linejoin="round"/>
<polyline points="455.8,19.1 455.8,28.2 455.8,37.2 455.8,46.3 455.8,55.4 455.8,64.4 456,73.5 455,87.1 448.2,109.7 434.5,132.4 414.2,155 395,177.7 375.7,200.4 356.4,223 338.2,245.7 305.3,291 275.7,336.3 246.7,381.6 223.2,426.9 197.3,472.2 152.5,585.5 101.4,698.8" fill="none" stroke="#ffa500" stroke-width="1.7" stroke-linejoin="round"/>
<circle cx="455.8" cy="19.1" r="6.0" fill="#ffa500" stroke="#d18a00" stroke-width="0.7"/><circle cx="455.8" cy="28.2" r="6.0" fill="#ffa500" stroke="#d18a00" stroke-width="0.7"/><circle cx="455.8" cy="37.2" r="6.0" fill="#ffa500" stroke="#d18a00" stroke-width="0.7"/><circle cx="455.8" cy="46.3" r="6.0" fill="#ffa500" stroke="#d18a00" stroke-width="0.7"/><circle cx="455.8" cy="55.4" r="6.0" fill="#ffa500" stroke="#d18a00" stroke-width="0.7"/><circle cx="455.8" cy="64.4" r="6.0" fill="#ffa500" stroke="#d18a00" stroke-width="0.7"/><circle cx="456" cy="73.5" r="6.0" fill="#ffa500" stroke="#d18a00" stroke-width="0.7"/><circle cx="455" cy="87.1" r="6.0" fill="#ffa500" stroke="#d18a00" stroke-width="0.7"/><circle cx="448.2" cy="109.7" r="6.0" fill="#ffa500" stroke="#d18a00" stroke-width="0.7"/><circle cx="434.5" cy="132.4" r="6.0" fill="#ffa500" stroke="#d18a00" stroke-width="0.7"/><circle cx="414.2" cy="155" r="6.0" fill="#ffa500" stroke="#d18a00" stroke-width="0.7"/><circle cx="395" cy="177.7" r="6.0" fill="#ffa500" stroke="#d18a00" stroke-width="0.7"/><circle cx="375.7" cy="200.4" r="6.0" fill="#ffa500" stroke="#d18a00" stroke-width="0.7"/><circle cx="356.4" cy="223" r="6.0" fill="#ffa500" stroke="#d18a00" stroke-width="0.7"/><circle cx="338.2" cy="245.7" r="6.0" fill="#ffa500" stroke="#d18a00" stroke-width="0.7"/><circle cx="305.3" cy="291" r="6.0" fill="#ffa500" stroke="#d18a00" stroke-width="0.7"/><circle cx="275.7" cy="336.3" r="6.0" fill="#ffa500" stroke="#d18a00" stroke-width="0.7"/><circle cx="246.7" cy="381.6" r="6.0" fill="#ffa500" stroke="#d18a00" stroke-width="0.7"/><circle cx="223.2" cy="426.9" r="6.0" fill="#ffa500" stroke="#d18a00" stroke-width="0.7"/><circle cx="197.3" cy="472.2" r="6.0" fill="#ffa500" stroke="#d18a00" stroke-width="0.7"/><circle cx="152.5" cy="585.5" r="6.0" fill="#ffa500" stroke="#d18a00" stroke-width="0.7"/><circle cx="101.4" cy="698.8" r="6.0" fill="#ffa500" stroke="#d18a00" stroke-width="0.7"/>
<polyline points="457.3,19.1 457.2,28.2 457.2,37.2 457.1,46.3 457.1,55.4 457,64.4 455,73.5 448.4,87.1 425.3,109.7 406.3,132.4 386.4,155 367.5,177.7 349.3,200.4 335.4,223 321.5,245.7 294.5,291 272,336.3 256.4,381.6 238.2,426.9 220.2,472.2 184.2,585.5 150.6,698.8" fill="none" stroke="#008000" stroke-width="2.6" stroke-linejoin="round"/><g fill="#008000"><circle cx="457.3" cy="19.1" r="6.0"/><circle cx="457.2" cy="28.2" r="6.0"/><circle cx="457.2" cy="37.2" r="6.0"/><circle cx="457.1" cy="46.3" r="6.0"/><circle cx="457.1" cy="55.4" r="6.0"/><circle cx="457" cy="64.4" r="6.0"/><circle cx="455" cy="73.5" r="6.0"/><circle cx="448.4" cy="87.1" r="6.0"/><circle cx="425.3" cy="109.7" r="6.0"/><circle cx="406.3" cy="132.4" r="6.0"/><circle cx="386.4" cy="155" r="6.0"/><circle cx="367.5" cy="177.7" r="6.0"/><circle cx="349.3" cy="200.4" r="6.0"/><circle cx="335.4" cy="223" r="6.0"/><circle cx="321.5" cy="245.7" r="6.0"/><circle cx="294.5" cy="291" r="6.0"/><circle cx="272" cy="336.3" r="6.0"/><circle cx="256.4" cy="381.6" r="6.0"/><circle cx="238.2" cy="426.9" r="6.0"/><circle cx="220.2" cy="472.2" r="6.0"/><circle cx="184.2" cy="585.5" r="6.0"/><circle cx="150.6" cy="698.8" r="6.0"/></g>
<polyline points="464.2,21.3 464.2,26.1 464.2,31.1 464.2,36.4 464.2,42.1 464.2,48.3 464.2,55 464.2,62.5 464.2,70.8 463,80.1 455.4,90.7 447.7,102.9 438.3,117 427,133.3 413.1,152.5 396,175.1 375.7,201.9 352.1,233.8 323,271.8 288.9,317.3 255.3,371.9 220.5,437.5 186.4,516.3 156.4,611.2 123.9,725.3" fill="none" stroke="#ff00ff" stroke-width="2.6" stroke-linejoin="round"/><g fill="#ff00ff"><circle cx="464.2" cy="21.3" r="6.0"/><circle cx="464.2" cy="26.1" r="6.0"/><circle cx="464.2" cy="31.1" r="6.0"/><circle cx="464.2" cy="36.4" r="6.0"/><circle cx="464.2" cy="42.1" r="6.0"/><circle cx="464.2" cy="48.3" r="6.0"/><circle cx="464.2" cy="55" r="6.0"/><circle cx="464.2" cy="62.5" r="6.0"/><circle cx="464.2" cy="70.8" r="6.0"/><circle cx="463" cy="80.1" r="6.0"/><circle cx="455.4" cy="90.7" r="6.0"/><circle cx="447.7" cy="102.9" r="6.0"/><circle cx="438.3" cy="117" r="6.0"/><circle cx="427" cy="133.3" r="6.0"/><circle cx="413.1" cy="152.5" r="6.0"/><circle cx="396" cy="175.1" r="6.0"/><circle cx="375.7" cy="201.9" r="6.0"/><circle cx="352.1" cy="233.8" r="6.0"/><circle cx="323" cy="271.8" r="6.0"/><circle cx="288.9" cy="317.3" r="6.0"/><circle cx="255.3" cy="371.9" r="6.0"/><circle cx="220.5" cy="437.5" r="6.0"/><circle cx="186.4" cy="516.3" r="6.0"/><circle cx="156.4" cy="611.2" r="6.0"/><circle cx="123.9" cy="725.3" r="6.0"/></g>
</g>
<rect x="88.5" y="19.4" width="396" height="795" fill="none" stroke="#000" stroke-width="1.39"/>
<path d="M133.5 814.4v6M198.5 814.4v6M263.5 814.4v6M328.5 814.4v6M393.5 814.4v6M458.5 814.4v6M88.5 19.4h-6M88.5 109.5h-6M88.5 200.4h-6M88.5 290.4h-6M88.5 381.4h-6M88.5 472.4h-6M88.5 562.5h-6M88.5 653.5h-6M88.5 744.5h-6" stroke="#000" stroke-width="1.39" fill="none"/>
<text x="133.5" y="842.1" font-size="17.6" text-anchor="middle" textLength="37.1" lengthAdjust="spacingAndGlyphs">17.5</text>
<text x="198.5" y="842.1" font-size="17.6" text-anchor="middle" textLength="37.1" lengthAdjust="spacingAndGlyphs">20.0</text>
<text x="263.5" y="842.1" font-size="17.6" text-anchor="middle" textLength="37.1" lengthAdjust="spacingAndGlyphs">22.5</text>
<text x="328.5" y="842.1" font-size="17.6" text-anchor="middle" textLength="37.1" lengthAdjust="spacingAndGlyphs">25.0</text>
<text x="393.5" y="842.1" font-size="17.6" text-anchor="middle" textLength="37.1" lengthAdjust="spacingAndGlyphs">27.5</text>
<text x="458.5" y="842.1" font-size="17.6" text-anchor="middle" textLength="37.1" lengthAdjust="spacingAndGlyphs">30.0</text>
<clipPath id="c1"><rect x="575.5" y="19.4" width="396" height="795"/></clipPath>
<path d="M667.5 19.4V814.4M763.5 19.4V814.4M860.5 19.4V814.4M956.5 19.4V814.4M575.5 19.4H971.5M575.5 109.5H971.5M575.5 200.4H971.5M575.5 290.4H971.5M575.5 381.4H971.5M575.5 472.4H971.5M575.5 562.5H971.5M575.5 653.5H971.5M575.5 744.5H971.5" stroke="#b0b0b0" stroke-width="0.87" stroke-dasharray="3.2 1.4" fill="none"/>
<g clip-path="url(#c1)">
<path d="M789.4 21.5h0M788.5 28.3h0M789.6 31h0M790 35.4h0M789.5 41.2h0M788.8 47.1h0M789 51.8h0M790.3 55.8h0M789.8 60.1h0M790.4 65h0M790.4 71.6h0M791.7 76.7h0M793.9 81.3h0M796.2 88.8h0M798.6 92.4h0M801.5 99.3h0M803.5 101.7h0M811.4 107.5h0M818 112.6h0M817.7 119.6h0M824.5 127.1h0M828.5 130.5h0M831.9 135.2h0M831.7 139.5h0M834.1 145.5h0M835.4 152.4h0M839.1 157.9h0M841.2 165.8h0M843.2 171.9h0M845.4 178.5h0M849.1 183h0M850 189.7h0M851.1 195.7h0M851 200.6h0M853.2 207.9h0M855.9 214.5h0M856.3 218.9h0M859.6 224.3h0M861.2 230h0M863.4 234.4h0M865.7 239h0M870.5 245.9h0M871.5 252.5h0M872.8 256.5h0M872.5 261.1h0M876.1 265.8h0M875.5 269.7h0M875.4 276.4h0M876 279.7h0M876.1 285.6h0M875.9 292.2h0M876.4 296.4h0M875.6 301.7h0M879.9 306.9h0M878.3 314.1h0M891.2 320.8h0M879.9 325.8h0M876.8 329.9h0M870.7 336.1h0M872.7 339.2h0M861.5 347.6h0M857.9 353.9h0M865.1 357.6h0M861.7 364.6h0M854.2 368.2h0M854.8 372.6h0M852 379.8h0M852.6 385.3h0M853.6 391.8h0M854.3 396.6h0M855.5 403.5h0M864.4 409.2h0M858.1 414.7h0M859.7 417.4h0M859 421.3h0M860.8 429.1h0M860.4 434.7h0M861.3 441.7h0M861.5 448.1h0M866.3 453.5h0M866.2 459.4h0M863.7 467.1h0M868.8 471.1h0M874.6 476.6h0M874.4 483.8h0M872.5 488.6h0M872.3 495h0M871.7 500.3h0M871.7 504.5h0M869.7 510h0M867.5 515h0M875.4 520.1h0M869.5 525.5h0M870.8 529.7h0M865.1 534.8h0M867 539h0M866.9 545.2h0M864.6 551.7h0M863.1 559.1h0M862.5 563.3h0M860.8 568.3h0M862.1 574.4h0M857 580h0M857.3 584.7h0M858.4 589.8h0M854.2 593.8h0M853.3 599h0M851.9 604.3h0M850.6 607.9h0M850.7 613.9h0M846 620.9h0M845.8 627.1h0M842.6 631.3h0M843.5 636h0M841.6 641h0M839.9 647.2h0M838.7 652h0M837.8 657.2h0M838.6 664.6h0M834.5 671.4h0M833.8 678.5h0M830.4 684.6h0M830 690.5h0M829.8 693h0M825.5 701.5h0M823.1 707.8h0M822.3 714.5h0M822.8 720.2h0M817.1 727.2h0M817.6 731.9h0M816.6 737.1h0M818.6 743.8h0M813.3 750.7h0M817.9 758.4h0M815.2 761.7h0M815.2 767.9h0M811.3 774.5h0M809.5 779.4h0M804.9 783.8h0M803.4 789.4h0M799.9 796.2h0M797.8 802.5h0M793.7 807.8h0M791.1 811.9h0M790.6 816.7h0M786.7 821.6h0M791.3 21.7h0M791.7 27.8h0M789.6 34.9h0M791 43.6h0M792.7 47.7h0M796 50.9h0M799.2 56h0M794.4 59.2h0M791.1 63.4h0M798.9 71.7h0M800.7 76.2h0M810.5 81.2h0M808.5 85.3h0M822.5 90.4h0M813.2 95.5h0M828.8 98.4h0M819.4 105.8h0M813.1 110.8h0M830.2 118h0M832.4 121.7h0M832 126.3h0M837.2 132.3h0M836.7 135.7h0M834.6 143.3h0M840.2 149.1h0M836.7 156.5h0M843 159.9h0M846.1 163.9h0M848.2 170.2h0M849.5 174.5h0M851.1 181.3h0M855.7 187.3h0M857.3 193.3h0M858.9 199.8h0M863 205h0M862.3 209.2h0M862.1 213.6h0M865.7 218.1h0M868.7 223.1h0M872.5 230.7h0M878 236.5h0M883.4 245.1h0M885.3 251.1h0M884.5 257h0M888.5 261.8h0M881.5 268.8h0M880.9 274.3h0M890.5 279h0M884.9 284.2h0M887.3 290.3h0M875.5 297h0M883.4 301.5h0M890.2 308.5h0M878.6 312.2h0M878.3 316.4h0M879.5 321.9h0M880.4 325.2h0M875.5 330.1h0M878.5 337.3h0M866.8 343.3h0M856.1 350.9h0M859.6 354.3h0M850.6 358.1h0M848 365.6h0M856.7 371.1h0M850 376.6h0M855.7 381.4h0M853.1 388.6h0M857.8 391.4h0M859.8 398.2h0M856.4 402.8h0M859.5 410.8h0M857.7 417.7h0M861.2 423.8h0M860.7 428.3h0M860.9 435.4h0M861.6 440.7h0M865 446.3h0M862 453.2h0M864.2 459.4h0M862.6 465.7h0M863.4 470.5h0M869 477.8h0M869.6 483.7h0M869 488.6h0M868.4 492.6h0M868.8 498.6h0M868 503.2h0M866.5 509h0M865.7 512.1h0M866.4 519h0M863.7 525.7h0M862.7 531.8h0M863.4 538.8h0M865.8 544.8h0M862.6 551.2h0M862.4 555.5h0M861.9 562.9h0M860.6 568.1h0M860.2 572.4h0M858.4 580h0M856.1 584.1h0M857.3 590.2h0M856.7 595.2h0M855.3 600.9h0M852.1 605.2h0M848.9 609.3h0M850.2 616h0M849 620.8h0M845.8 624h0M844.6 630.2h0M845.4 635.6h0M840.8 641.6h0M840.9 648.7h0M837.1 655.8h0M837.6 658.6h0M836.1 664.1h0M833.8 672.5h0M835.6 677.9h0M830.1 685.9h0M830.4 691.3h0M829.1 697.4h0M827.1 704.6h0M826.9 709h0M822.6 717h0M824.2 722.4h0M823.1 729.1h0M821 735.1h0M820.7 738.1h0M819.4 744.1h0M819.5 749.9h0M819.3 756.2h0M818.1 761.5h0M815.7 768h0M812.6 773.6h0M809.6 781.2h0M808.6 788h0M801.8 793.3h0M799.4 797.4h0M798.1 802.7h0M793.4 808.3h0M790.6 815.5h0M788.6 819.5h0M787 825.8h0M797.9 19.6h0M795.2 25.9h0M795.4 29.4h0M796.4 34.9h0M794.7 40.9h0M799 45.4h0M799.2 53.4h0M797.7 58.7h0M795.2 62h0M798.7 66.9h0M795.2 70.1h0M795.4 74.6h0M800.9 80.6h0M805.9 85.9h0M796.3 89.2h0M801.3 93.3h0M809.1 98.3h0M803.4 103.1h0M806.9 106.6h0M810.2 112.2h0M817.7 119.2h0M823.8 126.8h0M829.7 132.7h0M838.5 139.4h0M836.7 142.8h0M840.3 149.7h0M835.9 153.2h0M838.4 157.8h0M840.7 163h0M844.2 168.5h0M846.4 173.8h0M850.3 178.6h0M848.7 187.1h0M852.9 192.7h0M854.4 196h0M859.2 201.7h0M861.8 208.9h0M861.3 214.9h0M865.2 222.4h0M868.2 226.5h0M878.1 231.7h0M878.9 236.2h0M881.5 241.6h0M882.3 244.5h0M884.1 250.5h0M896.3 255.7h0M893.9 261.6h0M898.5 266.5h0M891.2 269.8h0M889.6 277.2h0M895.6 282.7h0M894.1 286.6h0M893.2 292.6h0M896.2 297.6h0M895.9 302.8h0M885.6 308.7h0M889.4 315.3h0M885.6 320.4h0M885.9 323.3h0M885.2 329.1h0M881.4 333.4h0M877.1 339.7h0M861.1 344h0M858.3 349.8h0M854.7 354.4h0M850.4 357.6h0M848.8 364.4h0M848.6 369.9h0M853.1 377.4h0M851.4 382h0M861.3 386h0M852.8 390.5h0M854.4 396h0M855.7 399.2h0M856.7 405.4h0M858.2 412.2h0M859.2 418.8h0M867.6 424.3h0M861.1 430.2h0M868.1 434.3h0M867.8 441h0M872.1 445.1h0M867.8 450.4h0M872.6 456h0M866.5 462.2h0M874.1 464.4h0M869.6 469.5h0M879.2 475.8h0M875.5 481.5h0M877 486h0M879.8 490.2h0M877.9 494.3h0M875.5 499.4h0M875.5 506.1h0M875.6 512h0M871.5 519.2h0M869.2 523.3h0M869.1 527.2h0M870.7 534h0M870.3 537.9h0M866.4 543.3h0M865.8 549h0M865.5 557.2h0M864.2 560.9h0M861.3 566.2h0M862.2 571.5h0M858.8 574.5h0M859 578.8h0M859.4 583h0M854.5 589.9h0M855.7 594.3h0M851.9 597.7h0M852.8 602.7h0M851.5 608.5h0M848.9 615.1h0M847.8 620.8h0M845.7 627.8h0M845 631.9h0M843.1 636.2h0M842.2 642.9h0M839.3 650.2h0M839.2 654.5h0M838.3 658.5h0M836.8 663.5h0M835.5 667.7h0M833.3 675.4h0M832.1 682.5h0M830.5 688h0M832 692h0M826.7 699.1h0M825.5 706.4h0M823.3 709h0M822.7 714.8h0M820.3 721.6h0M822 726.1h0M821.1 730.8h0M818.9 734.9h0M819.9 741.8h0M816.5 745.9h0M815.9 753.3h0M816.2 760h0M813.2 763.4h0M812.7 769.9h0M811.9 775.9h0M809.1 783.8h0M807.8 789.7h0M803.5 795.5h0M803.3 801h0M797.5 805.2h0M795.7 811.7h0M794.4 814.8h0M792.3 821.2h0M794.4 22.1h0M795.8 27.1h0M799.5 33.2h0M796.9 40.5h0M796.8 44.1h0M798.8 50.2h0M796.6 57.3h0M797.6 62.8h0M802.1 69.5h0M807.6 75h0M818.2 79.9h0M828.5 86.8h0M814.1 92.6h0M829.7 96.9h0M828.1 101.2h0M831.6 105.6h0M839.3 113.4h0M840.4 119.8h0M837.4 126h0M840 129.8h0M845.3 136.8h0M843.4 143h0M846.6 149.3h0M841.1 154h0M843.2 160.2h0M849.9 164.7h0M846.7 170.1h0M848.3 173.8h0M850.9 180.3h0M853.3 184.7h0M852.2 189.2h0M850.9 196.1h0M854.5 200.7h0M853.9 204.2h0M855.5 208.9h0M855.5 214h0M858.2 221.2h0M862.7 227.4h0M862.9 233.2h0M865.4 238.8h0M868.6 243.7h0M878.4 249.9h0M874.8 254.6h0M880 260.9h0M878.5 268h0M886.2 273h0M886.8 277.3h0M887.1 283.6h0M884.4 286.9h0M883.6 291.2h0M884.6 299h0M884.1 302.6h0M883.6 309.7h0M898.2 313.7h0M891.9 317.3h0M889 321.4h0M898.1 326.1h0M903 329.4h0M896.6 334.7h0M882.8 339.5h0M887 346.3h0M885.1 351.9h0M885.6 359.2h0M886.3 364.6h0M879.1 368.6h0M889 374.9h0M869.5 382.1h0M872.3 386.5h0M868.2 390.3h0M869.3 397.3h0M872.7 405h0M872.4 409.4h0M869.2 416.6h0M870.6 421h0M867 426.2h0M870.7 430.4h0M872.4 436.9h0M875 441.2h0M870.9 449.5h0M873.2 455.3h0M874.9 459.7h0M869.2 465.4h0M871.6 471.8h0M879.4 476.4h0M874.8 481.7h0M873.7 488.1h0M875.8 490.8h0M874.8 495.4h0M876.2 500.4h0M874.3 506.9h0M870.8 511.5h0M874.4 517.7h0M872.6 523.2h0M871.2 529h0M867.7 533.5h0M869.1 539.9h0M866.3 544.9h0M865 552.4h0M862.2 558.1h0M865.1 562.9h0M860.7 569.8h0M861 575.4h0M855.9 581.9h0M856.3 586.2h0M855.5 591.3h0M853.1 594.3h0M852.2 601.4h0M853.6 607h0M849.8 612h0M847.9 618.6h0M847.6 622.8h0M845.2 628h0M845 632.5h0M843.4 637.4h0M844.3 645.1h0M841.2 649h0M841.1 652.7h0M837.5 658.6h0M837.5 664.4h0M838.1 672h0M834.7 679.7h0M835.2 685h0M834.3 691.5h0M831.8 698.7h0M828.6 701.5h0M828.3 707.2h0M827.2 713.9h0M822.7 719.6h0M826.2 723.5h0M823.5 729.5h0M825.2 734.6h0M825 738.9h0M822.3 745h0M821.3 750.1h0M820.3 755.7h0M823.5 760.9h0M819.9 767.5h0M814.9 774.5h0M811.6 780.2h0M807.3 787.5h0M806.3 793.3h0M800.1 800.7h0M798.5 804.6h0M795.6 809h0M793.4 814.4h0M791.9 818.5h0M789.9 823.7h0M795.6 21.7h0M797.5 28.5h0M801.7 31.3h0M797.8 38.2h0M801.1 41.1h0M796.7 48.2h0M800.4 52.2h0M800.5 58.2h0M801.4 64h0M802.8 72h0M807.3 75h0M805.8 80.4h0M816.1 85.3h0M815.1 90.2h0M819.4 96.3h0M813.3 100.1h0M820.7 105.9h0M834 110.8h0M838.1 117.1h0M837 121.7h0M841.9 126.5h0M843.4 131.8h0M839.5 137.7h0M846.5 141.9h0M845.2 148.8h0M849.9 153.2h0M849 158.7h0M851 164.4h0M849.1 167.6h0M852.8 174h0M857.4 179.1h0M857.2 185.7h0M859.5 189h0M865.2 194.2h0M866 198h0M871.8 205.1h0M869.8 208.8h0M868.3 215.7h0M870.3 221.8h0M877.4 228.3h0M884.3 232.5h0M887.6 240.2h0M884.6 245.2h0M891.3 248.8h0M892.1 254.6h0M891.6 260.5h0M889.5 268.3h0M907.1 272.7h0M897.3 280h0M902.6 284.8h0M895.8 288.1h0M904.4 291.6h0M898.3 297.6h0M892.6 304.3h0M896 311.7h0M898.2 318.8h0M901.9 323.8h0M891.9 330.3h0M880.1 334h0M879.5 340.9h0M883.8 345.8h0M887.7 349.7h0M863.3 357.3h0M869.5 359.5h0M855 365h0M853.4 369.2h0M854.1 373.7h0M864.6 378.8h0M862.5 382.1h0M859.9 390.1h0M863.6 395.8h0M864 404h0M863.7 407.4h0M862.9 413.3h0M863.4 418h0M865.3 425.2h0M869.3 430.9h0M866 435.5h0M868.1 441.9h0M867 449.3h0M868.5 456.5h0M867.3 460.6h0M874.4 467.1h0M875.4 473.4h0M874.4 477.4h0M873.6 483.7h0M874.5 488.2h0M873.8 495.4h0M873.9 501.7h0M871.6 503.9h0M870.6 512.7h0M868.5 518.8h0M872.8 526.3h0M870.9 532.1h0M868 538.8h0M867.3 545.4h0M865.7 552.2h0M862.2 559h0M865.8 562.9h0M865.4 567.3h0M861.5 571.6h0M860.6 574.6h0M860.4 580.1h0M858.9 585.4h0M855.5 589h0M858.9 595.3h0M857.3 601.2h0M855.8 607.2h0M853.4 612.3h0M851 616.4h0M851 623h0M850 628.2h0M846.3 635.2h0M845.4 640.8h0M846.1 646.2h0M845.7 652h0M841 658.3h0M840.9 666.2h0M838.6 670.7h0M839.1 677.9h0M837.8 682.4h0M836.4 686.6h0M834.2 693.1h0M830.6 699.4h0M831.5 706.1h0M830.2 710.5h0M824.6 719h0M824.1 723.3h0M827.9 728.7h0M823.3 733.4h0M822.4 738h0M823.9 744.3h0M824.2 751h0M822.1 755.4h0M821.4 759.1h0M821.9 765.2h0M815.5 767.2h0M816.7 773h0M812.8 777.6h0M811.4 785.2h0M809.5 789.9h0M804.1 794.4h0M805.9 798.1h0M803.3 805.8h0M797.4 809.4h0M795.9 813.9h0M793 817.1h0M790.4 821.9h0M798.9 21.4h0M801 24.5h0M802.4 28.9h0M802.8 35.4h0M800.6 39.8h0M797.3 46.5h0M795.4 52.7h0M797.1 58.8h0M794.6 62.7h0M796.3 67.3h0M795 75.4h0M805.5 80.9h0M814.1 87h0M810.1 89.9h0M819.8 96.2h0M807.3 101.7h0M816.6 105.2h0M819.5 110.1h0M819.3 113.1h0M821.1 117.7h0M818.8 121.5h0M835 127.4h0M841.5 134.8h0M841.5 142.4h0M847.9 148.4h0M848.3 155h0M854 161.4h0M854 166.4h0M853.8 170.4h0M853.2 177.5h0M860.1 184.8h0M862 191h0M863.7 196.7h0M865.8 200.8h0M867 206.5h0M870.3 213.3h0M878.1 219.2h0M876.7 223.3h0M878.2 228h0M878.1 233.9h0M883.9 240.5h0M894.6 244.8h0M890.1 248.6h0M891.7 254.5h0M890.9 260.7h0M902.6 268.8h0M895.7 273.6h0M899.8 277.7h0M895.8 284.6h0M901 289.7h0M894.3 296.1h0M893.2 302.5h0M892.1 307.5h0M902.9 314.2h0M898.7 319.5h0M897.4 324.9h0M899.1 329.2h0M892.1 334.5h0M884.3 341.9h0M887.8 347.7h0M872.4 354.3h0M885.5 358.9h0M876.6 363.8h0M868.5 370.8h0M870.9 377.5h0M861.5 384.8h0M865.3 390.8h0M862.1 395.8h0M870.4 400.3h0M868.6 405.9h0M864.3 413.2h0M866.9 416.5h0M867.3 424.4h0M874.8 431.5h0M865.4 437.2h0M868.7 441.9h0M872.3 445.9h0M875.8 453.4h0M873.3 458.8h0M879.6 464.2h0M878.5 469h0M880.2 474.8h0M883.8 482.5h0M878.9 488.7h0M881.5 492.3h0M878.8 496.9h0M878.5 501.9h0M877.8 506.2h0M879.9 513.6h0M878.1 518.8h0M880.5 523h0M876 529.3h0M877.3 535.9h0M872.4 540.3h0M870.4 547.3h0M868.7 554.1h0M866.6 559.9h0M863.7 565.5h0M861.6 571.4h0M861.4 578.6h0M859.5 583.9h0M855.3 592h0M856.2 598.2h0M856.6 601.1h0M854.3 604.5h0M851.8 612.6h0M849.6 616.1h0M850.9 623.3h0M846.8 631.8h0M845 638.3h0M841.6 644.6h0M840.4 649h0M840.5 654.8h0M840.1 660.1h0M839.9 667.3h0M837.9 671.5h0M838 676.7h0M833.4 681.3h0M833.4 685.8h0M834.7 690.8h0M831.7 697.5h0M829 703.3h0M826 709.9h0M829.1 712.4h0M825.7 716.5h0M823.5 723.6h0M821.9 727.3h0M820.7 732.7h0M823 737.3h0M823.8 742.7h0M825 748.8h0M822.1 755.4h0M820.6 761h0M821.3 766.9h0M818.9 770.3h0M818.7 776.9h0M813 781.9h0M808.3 788.8h0M808.7 793h0M805.8 798.6h0M802.6 803.3h0M800.1 809.1h0M797.4 814.1h0M791.9 819.8h0M803.8 20.8h0M801.4 26.1h0M805.1 31.2h0M802.5 34.8h0M803.1 39h0M800.6 43.5h0M803.1 47.6h0M802.8 52.1h0M806.1 60.2h0M810 66.1h0M811.6 70.7h0M824.8 75h0M827.1 80.3h0M832 84.6h0M835.6 90h0M847.7 96.4h0M832 102.2h0M839.6 110.2h0M853.4 115.7h0M849 121.7h0M845.2 126.7h0M847.9 133.1h0M847.4 136.8h0M849.3 143.1h0M847.8 148.2h0M848.7 153.2h0M845 159.7h0M851.2 164.9h0M852.7 168.3h0M853.1 173.6h0M855.2 179h0M853.8 184.2h0M855.4 191.2h0M855.2 196h0M856.4 199.8h0M859.4 206.1h0M860.9 213.3h0M861.2 217.7h0M868 224.6h0M871.5 230.6h0M875.1 236.5h0M876.5 242.5h0M878.4 246.3h0M883.1 250.2h0M886.2 255.3h0M892.9 259.3h0M905.8 266h0M891.3 269.6h0M900.2 277.1h0M905.8 282.8h0M899.1 288.5h0M897 294.1h0M903.4 300.3h0M904.6 306.9h0M905.6 310.2h0M908.6 316.9h0M904.8 323.5h0M905.1 330.8h0M911.1 337.7h0M905.7 342h0M899.4 346.1h0M900.9 353.5h0M901 359.1h0M896.3 366.8h0M892.8 372.4h0M881.3 378.7h0M885.3 384.3h0M886 387.8h0M880.9 394h0M873.5 397.8h0M874.9 404.4h0M871.9 410.4h0M877 414.8h0M876.3 419.9h0M876.1 426.2h0M876.5 430.5h0M882.8 436.6h0M880.4 442.7h0M878.8 445.6h0M877.5 451.7h0M880.6 454.8h0M880.5 460.6h0M883.5 465.2h0M881.7 471.7h0M883.2 475.6h0M880.6 481.7h0M879.9 486.4h0M882.2 490h0M878.8 496.5h0M881.3 499.6h0M878 505.1h0M874.9 510.7h0M876.1 515.5h0M876 519.6h0M871.4 524.3h0M873.1 531h0M870.2 537.1h0M872.5 541h0M868.6 547.3h0M865.4 553.7h0M865.7 556.6h0M863 564.6h0M862.9 567.2h0M862.6 572.1h0M859.3 577.6h0M860.3 582.3h0M856.6 587.9h0M856.1 594.3h0M856.2 598.4h0M857.1 602.7h0M854.3 605.6h0M853 609.9h0M851.8 615.6h0M850.7 619.8h0M850.3 627.1h0M849.2 631.6h0M846 638.2h0M844.6 644.9h0M846.1 649.6h0M842.2 656h0M843.1 663h0M843.9 669.2h0M840.8 673.3h0M838.4 679.1h0M837.4 684.9h0M835.8 689.8h0M835.3 697.1h0M835.5 703.6h0M833.7 709.3h0M828.9 713h0M829.8 719.7h0M827.7 725.2h0M827.8 731.9h0M828.7 735.8h0M827 741.2h0M826.1 744.9h0M824.3 752.6h0M825.2 757h0M819.2 762.5h0M822.7 768.8h0M817.6 776.7h0M813.8 781.8h0M809.6 788.8h0M808.2 792.5h0M804.3 800.1h0M802.8 805.5h0M798.6 809.6h0M797.2 815.6h0M793.2 821.4h0M804.3 19.6h0M803.1 26.5h0M802 31.5h0M801.8 40.4h0M804.4 42.7h0M800.9 48.5h0M805.8 55.9h0M805.7 62.6h0M801.5 66.7h0M801.2 71h0M811.4 75.7h0M823.3 82.4h0M821.8 86.4h0M828.8 91.1h0M827.1 94.3h0M832 98.1h0M831.1 103h0M848.6 109.4h0M826.3 117.3h0M842.7 122.3h0M843.5 125h0M853.1 131.6h0M840.8 138.5h0M846.2 144.8h0M847.3 149.5h0M846.1 155.1h0M848.3 161.8h0M855.1 168.7h0M854.1 173.5h0M855.7 180.6h0M856.2 184.7h0M863.4 189.5h0M864.9 192.9h0M863.2 198h0M867 203.6h0M872 207.6h0M875.4 212.6h0M874.6 217.2h0M874.3 223.3h0M881.5 227.1h0M883.1 234h0M888.6 238.6h0M902.1 246h0M902.2 252.7h0M911.4 257.5h0M908 263.8h0M907.1 270.7h0M914.7 276.3h0M915 280.2h0M919.1 286.6h0M903.2 290.8h0M909.2 296.2h0M904 301h0M905.7 307.3h0M904.9 311.3h0M901 316.1h0M905.5 323.4h0M897.1 328.5h0M888.5 335.5h0M883.9 340.8h0M882.8 345.1h0M883 350.8h0M875.1 355.2h0M883 361.2h0M868.1 364.7h0M869.8 369.4h0M877.8 374.4h0M862.4 378.9h0M866.3 385.5h0M874.6 389.7h0M873.8 398.4h0M871.3 404.2h0M871.8 409.3h0M876.9 414.9h0M874.3 419.5h0M878.7 426.3h0M882 431.7h0M882 440.3h0M876.2 445.5h0M878.9 449.9h0M882.3 456.2h0M880.3 461.2h0M884.9 464.9h0M881.4 472.7h0M884.7 477.6h0M879.8 481.5h0M879.8 485.5h0M882.2 490.2h0M880 496.8h0M881.7 502.1h0M878.1 507h0M878.9 512.6h0M876.5 519.3h0M873.3 523.5h0M878.5 528.3h0M876.1 533.1h0M872.5 537.4h0M874 541.5h0M871.1 547.4h0M869.3 553.3h0M871.3 559h0M869.5 562.7h0M867.1 567.4h0M862.2 574.5h0M863.1 579.1h0M864.5 585.4h0M858.7 591h0M858.9 599.4h0M856.4 603.3h0M854.6 610.9h0M853.3 614.7h0M850.3 620.2h0M850.3 626.4h0M848 631.2h0M845.3 638h0M845.2 643.8h0M843.6 649.6h0M843.3 653.5h0M840.8 657.1h0M840.7 664.6h0M838.5 670h0M836.1 675.3h0M834.3 681.6h0M836 688.8h0M833.3 691.8h0M834.1 695.8h0M830.3 702.7h0M828 708.1h0M830 714.3h0M828.8 721.1h0M831.2 728.2h0M829.5 733.4h0M827.8 739h0M824.5 746.5h0M825.1 752.7h0M827.1 756.9h0M822.5 763.6h0M824.6 768.9h0M823.5 772.1h0M818.2 777.2h0M814.3 782.8h0M808.8 790.5h0M807.9 793.1h0M806.2 800.2h0M802.9 804h0M800.4 809.6h0M797.1 817.1h0M791.9 824.1h0M799.9 20.7h0M801.2 27.1h0M800.9 31.3h0M807.1 37.2h0M805.3 43.4h0M805.6 49.7h0M808.5 56.7h0M805.4 61.2h0M804.2 67.5h0M811 74.1h0M827.1 79.4h0M822.4 84.5h0M830.6 88.5h0M830 94.5h0M847.4 98.4h0M843.8 103.8h0M842.5 111.1h0M848.3 118.2h0M850.5 122.6h0M855.6 127.1h0M859.9 131.1h0M848.2 137.1h0M859.9 143.3h0M860.5 150.8h0M862.4 155.7h0M863.4 161.3h0M863.5 164.2h0M860.1 172.7h0M864.4 176.3h0M861 180.2h0M866.1 185.6h0M865.7 192.4h0M865.6 196.9h0M867.6 203.4h0M869.9 206.9h0M871.9 210.9h0M869.7 215.4h0M870.8 223.1h0M873.6 226h0M879.4 232.7h0M879.8 238.9h0M878.3 247.2h0M888.5 252h0M889.6 257.8h0M893.8 263.4h0M894.9 267.6h0M902.2 272.5h0M894.9 279.5h0M892.3 285.5h0M896.8 290.7h0M910 299.1h0M911.2 301.7h0M904.7 307.1h0M911.4 314.7h0M901.3 320.3h0M902.6 324.8h0M901.1 331.4h0M894.2 336.7h0M903 340.8h0M893.6 347.5h0M891.9 352.3h0M892.7 359.5h0M898.8 365.2h0M894.1 373.6h0M905.9 377.7h0M901.2 381.8h0M894.9 386.5h0M891.9 390.8h0M892.1 395.6h0M888.2 400.5h0M888 407.2h0M885.2 412.7h0M888 419.1h0M887.8 423.8h0M884.4 428.8h0M882.7 434.2h0M879.8 440.4h0M884.3 445.9h0M884.4 451.3h0M879.2 457.2h0M884.3 460h0M879.7 465.1h0M883.4 471.9h0M879.9 477.5h0M882.5 484h0M876.9 486.7h0M881.1 494.1h0M876.7 498.9h0M881.8 505.4h0M878.5 513.3h0M876.3 519.3h0M882.2 524.9h0M874.4 530.2h0M872.4 535.4h0M866.8 538.7h0M869.1 544.1h0M866.2 551h0M867.3 555.6h0M865.4 560.9h0M866.8 565.3h0M862.5 571.7h0M864.7 577.5h0M860.7 582.4h0M860 587.5h0M862 591.2h0M858.9 598.6h0M858.6 604.4h0M856.1 608.6h0M855.9 612.8h0M855.2 619h0M856 626.3h0M853.5 632.7h0M852.4 635.4h0M850.9 642.6h0M851.2 647.4h0M849.1 655.7h0M845.6 659h0M845.6 662.5h0M844.1 670.7h0M840.5 674.3h0M838.9 678h0M839.5 684.6h0M837.5 689.3h0M837.1 694.6h0M830.8 699h0M829.8 704.1h0M831.7 711.2h0M832.4 716h0M827.1 724h0M828.7 728h0M827.2 735.8h0M826 741.5h0M825 745.4h0M826.4 753.3h0M823.9 758.9h0M822.4 764.3h0M821.1 768.8h0M817.3 774.5h0M817.3 778.4h0M811.9 785.6h0M809.8 790.8h0M806.8 797.5h0M801.7 801.4h0M801.9 804.6h0M796.4 811.9h0M794.2 815.2h0M791 823.5h0M805.9 22.2h0M802.6 28.5h0M805.5 32.3h0M805.3 39.1h0M805.9 42.5h0M807.7 47h0M808 51.9h0M806.3 57.3h0M809.2 63.7h0M805.1 68.4h0M806.2 70.7h0M821.3 77h0M836.7 82.8h0M832.7 88.1h0M841.3 93.2h0M844.8 98.2h0M859.7 105.3h0M861 111.1h0M852.2 117.3h0M861.7 123.1h0M852.3 128.1h0M858.4 134.1h0M862.6 140.4h0M863.3 145.1h0M863.7 149.8h0M862.2 157.3h0M863.1 162.5h0M864.4 166h0M865.4 173.7h0M864.9 178h0M864.7 182.7h0M869.6 189.9h0M869.5 195.5h0M873.9 202h0M875.4 209.2h0M879.5 216.1h0M874.9 220.6h0M880.7 226.8h0M885.8 233.7h0M883.8 237.8h0M893.1 241.5h0M898.2 246.3h0M896.4 252.7h0M904.4 258.4h0M913.9 261.5h0M904.4 266.9h0M908.6 271.8h0M909.6 276.2h0M908.1 280.9h0M919.4 284h0M908.8 289.7h0M913.8 293.4h0M917 300.2h0M914.6 304.8h0M914.8 309.8h0M907.3 314.1h0M905.4 320.9h0M901.6 325.9h0M897 329.9h0M897 335.4h0M899.1 341.1h0M894.9 347.8h0M886.7 352.3h0M890.6 359.7h0M875.4 363.6h0M899.8 368.4h0M891.2 374.5h0M890.3 380.6h0M884.8 385.5h0M881.7 390.7h0M879.7 395.4h0M877.9 401.2h0M876.7 407.3h0M884.2 413.9h0M884.9 418.9h0M881.1 427.2h0M888.9 432h0M883.3 437.5h0M879.4 441.7h0M885.2 448h0M886 453.7h0M888.7 460.2h0M886.4 464.6h0M884.1 467.7h0M881.9 475.6h0M886 480.3h0M883.3 485.5h0M884.9 490.1h0M883.2 494.2h0M880.8 500.9h0M884.5 504.5h0M882.6 512.6h0M881.3 518.2h0M881.7 525.3h0M878 533.6h0M880.8 537.9h0M876.3 543.1h0M876.3 547h0M874.5 550.3h0M873.2 556.1h0M872.5 560.7h0M872.1 564.8h0M870.5 571.7h0M869.1 578h0M867.5 584h0M865.8 589.8h0M863.4 594.2h0M863.3 601.6h0M859.3 605.3h0M859.2 610.2h0M856.1 616.4h0M851.6 624.6h0M851.6 628.2h0M851.1 634.3h0M848.1 640h0M847.4 643h0M846.4 647.6h0M844.4 652.5h0M842.9 660.6h0M843.3 664.9h0M841.9 672.9h0M840.6 678.9h0M838.5 683.9h0M838.3 687.3h0M837.5 691.7h0M837.3 696.5h0M833.7 702h0M829.4 706.6h0M832.7 713h0M829.8 715.8h0M825.3 722.5h0M825.4 728.2h0M825.7 732.3h0M822.8 738.1h0M825.2 745.8h0M822.9 750h0M821.3 754.6h0M820.6 759.1h0M817.6 765.7h0M819.5 770.8h0M816.8 774.1h0M813 781.4h0M809.1 787.2h0M811.2 790.4h0M810.5 797.9h0M808.7 802.2h0M803.3 808.8h0M800.9 813.6h0M800 818.4h0M795.6 823.3h0M802.6 18.8h0M800 25.2h0M801.3 31.2h0M800.3 37.3h0M800.2 42.7h0M798.6 46.6h0M803.4 52.9h0M804.1 58.7h0M803.9 63.8h0M811.2 70.9h0M826.3 77.1h0M837.1 82.2h0M838.3 87h0M845.2 90.7h0M852.3 95.5h0M857.3 100.1h0M857.6 107.6h0M859.2 111.7h0M861.2 117.4h0M862.4 123.5h0M861.1 129.1h0M863 135h0M862 141.2h0M862.5 147.3h0M862.5 153.2h0M863.7 158.8h0M862 161.9h0M864.5 169.6h0M862.5 176.1h0M863.7 181.9h0M866.1 186.3h0M869.8 190.8h0M872.8 193.8h0M875.7 199.8h0M874.2 204.4h0M878.8 207.8h0M879.8 214h0M879.2 219.4h0M883.5 225.3h0M889.7 232.4h0M895.9 239.6h0M894.9 246.6h0M898.7 251.1h0M900.3 254.8h0M903.5 260.5h0M908.4 265.1h0M899.7 273.1h0M912.3 279.5h0M903.3 287h0M905.6 291.5h0M907.7 294.9h0M906.1 300.4h0M910.3 307h0M906 312.1h0M903.8 316.9h0M907.3 321.8h0M915.2 326.1h0M910.6 330.3h0M911 336.7h0M920.5 342.1h0M906.7 346.9h0M920 351.8h0M907.2 356.9h0M901.5 360.8h0M908.8 368.6h0M892.3 375.3h0M895.4 379.5h0M896.4 385.7h0M883.9 392.7h0M890.7 397.5h0M883.2 400.6h0M883.8 407h0M881.4 414h0M886 418.3h0M887.6 420.9h0M886.7 428.3h0M887.7 435.1h0M888.2 443.1h0M888.7 449.1h0M889 456.2h0M889.8 462.3h0M890.4 467.6h0M888.4 471.3h0M888.1 477.4h0M887.5 482h0M884.4 489h0M879.9 495h0M883.8 498.8h0M882.5 506.3h0M882.4 513.2h0M882.9 517.7h0M880.2 522h0M879.7 527.6h0M878.5 533.1h0M878.6 536.9h0M874.8 540.7h0M874.2 546.2h0M875.5 551h0M867.8 557.1h0M870.1 561.2h0M869.5 566.1h0M865.8 574.5h0M868.6 578.7h0M865.8 583.2h0M863.4 588h0M862.5 592.6h0M862.3 599h0M860.8 604.7h0M859.7 608.6h0M857.6 614.9h0M853.2 619.9h0M849.6 624.9h0M852.6 629.7h0M849.5 637.6h0M847 641.9h0M848 647.3h0M848 655.1h0M843.7 661.1h0M841.5 667.7h0M844.2 671.8h0M842.4 678h0M842.2 683.8h0M838.8 690.3h0M838.7 694.9h0M835.6 700.3h0M835.7 704.7h0M834.8 712.3h0M834.2 716.4h0M830.3 721.5h0M830.7 724.5h0M829.1 729.7h0M829.3 734h0M828.1 740h0M827 747.1h0M827.5 752.6h0M827.2 758.3h0M825.9 762.5h0M823.2 768.9h0M822.6 772.1h0M819.1 780.3h0M817.2 784.1h0M814.4 789.3h0M811.6 793.6h0M811.2 797.9h0M809.1 802.2h0M805.4 808.9h0M802.8 812.8h0M799.1 819.6h0M794.1 824.7h0M811.1 21.1h0M811.8 25.1h0M810.6 30.1h0M811.8 34h0M810.5 38.9h0M811.1 45.1h0M811.6 51.8h0M809.8 56.1h0M811.3 60.8h0M811.3 66.8h0M818.9 73.7h0M829.7 77h0M840.4 82.1h0M841.8 86.5h0M850.7 94h0M856.5 97.7h0M853.8 101.6h0M851.6 109h0M861.9 112.1h0M854.2 118h0M862.1 122.9h0M858.1 129.4h0M856.5 133.2h0M858.8 136.7h0M861 141.8h0M860.6 148.3h0M860.8 154.8h0M861 160.6h0M862.7 165.2h0M860.6 171.4h0M861.8 176.4h0M862.8 183.3h0M864 188.2h0M869.8 192.2h0M868.7 198.7h0M873 205.6h0M873.4 209.5h0M880 216.5h0M878.7 222.3h0M882.3 228h0M888.9 234.9h0M890.1 239.8h0M905.1 246.2h0M902.8 252.2h0M903.2 258.6h0M912.8 265.3h0M913.4 270.1h0M914.5 273.8h0M912.3 278.5h0M921.4 287h0M920 290.8h0M920.9 294.6h0M922.5 300.9h0M917.7 304.6h0M921.5 309.3h0M920 317.8h0M914.5 324.2h0M910.8 327.2h0M911.7 332.4h0M912.7 339.2h0M919.5 344.4h0M912.6 350.8h0M912.1 354.7h0M914.6 361.4h0M921.7 363.9h0M898.2 371.2h0M904.3 376.7h0M906.5 381h0M899.4 385.3h0M893.6 390.7h0M885.8 396.2h0M888.7 400.3h0M887.3 405.4h0M888 408.9h0M888.3 417.1h0M888 421h0M887.6 426h0M887.5 430.7h0M889.1 435.4h0M889.5 441.4h0M887.9 445.1h0M888.2 451h0M888.5 455.9h0M890.2 462.8h0M890.8 468.4h0M889.1 472.9h0M887.4 477.6h0M887 485h0M886.3 491.8h0M885.2 496.9h0M885.4 502.8h0M884.4 505.3h0M885.5 511.3h0M884.4 517.7h0M882.3 523.8h0M880.8 530.9h0M880.6 533.8h0M876 540.4h0M876.6 546.9h0M873.9 552.4h0M871.5 559h0M870.5 566h0M870.7 570.4h0M867 575.9h0M867.3 579.3h0M864.2 586.4h0M863 592.2h0M861 596.9h0M856.8 604.1h0M859.4 609.9h0M856.5 617.5h0M853.8 622.9h0M853.1 626.5h0M853.6 634.5h0M850.4 638h0M847.8 643.2h0M846.4 647.2h0M848.8 654.7h0M845.7 661.1h0M840.2 668h0M840.1 672.5h0M840.1 677.8h0M840.4 680.9h0M838.7 687.8h0M837.4 691.6h0M835.8 697.3h0M835.3 701.3h0M834.6 708.1h0M832.6 710.4h0M831.2 715.2h0M831.5 722.1h0M831.7 724.9h0M831 733h0M829.6 735.7h0M829 742.7h0M828.1 747h0M827.3 753.2h0M825.4 759h0M824.4 764.7h0M823.7 771.1h0M821.1 776.9h0M818.6 782.3h0M817.2 786.6h0M811.8 794.4h0M811 798.9h0M806.6 806.1h0M805.1 808.9h0M802.5 813.9h0M798.5 820.6h0" stroke="#00ffff" stroke-width="5.8" stroke-linecap="round" fill="none"/>
<polyline points="798.4,24.5 800.1,47.2 806.6,69.9 826.3,92.5 843.4,115.2 848.7,137.8 849.8,160.5 858.4,183.1 869.8,205.8 877,228.5 887.5,251.1 896.3,273.8 899.4,296.4 895.1,319.1 890.8,341.7 880.9,364.4 869,387.1 870.1,409.7 874.4,432.4 879.6,455 878.5,477.7 876.9,500.3 874.2,523 869.9,545.6 864.9,568.3 860.3,591 854.5,613.6 847.9,636.3 842.1,658.9 836.4,681.6 830.2,704.2 824.8,726.9 822.5,749.6 817.8,772.2 806.3,794.9 795,817.5" fill="none" stroke="#0000ff" stroke-width="2.6" stroke-linejoin="round"/><g fill="#0000ff"><circle cx="798.4" cy="24.5" r="5.9"/><circle cx="800.1" cy="47.2" r="5.9"/><circle cx="806.6" cy="69.9" r="5.9"/><circle cx="826.3" cy="92.5" r="5.9"/><circle cx="843.4" cy="115.2" r="5.9"/><circle cx="848.7" cy="137.8" r="5.9"/><circle cx="849.8" cy="160.5" r="5.9"/><circle cx="858.4" cy="183.1" r="5.9"/><circle cx="869.8" cy="205.8" r="5.9"/><circle cx="877" cy="228.5" r="5.9"/><circle cx="887.5" cy="251.1" r="5.9"/><circle cx="896.3" cy="273.8" r="5.9"/><circle cx="899.4" cy="296.4" r="5.9"/><circle cx="895.1" cy="319.1" r="5.9"/><circle cx="890.8" cy="341.7" r="5.9"/><circle cx="880.9" cy="364.4" r="5.9"/><circle cx="869" cy="387.1" r="5.9"/><circle cx="870.1" cy="409.7" r="5.9"/><circle cx="874.4" cy="432.4" r="5.9"/><circle cx="879.6" cy="455" r="5.9"/><circle cx="878.5" cy="477.7" r="5.9"/><circle cx="876.9" cy="500.3" r="5.9"/><circle cx="874.2" cy="523" r="5.9"/><circle cx="869.9" cy="545.6" r="5.9"/><circle cx="864.9" cy="568.3" r="5.9"/><circle cx="860.3" cy="591" r="5.9"/><circle cx="854.5" cy="613.6" r="5.9"/><circle cx="847.9" cy="636.3" r="5.9"/><circle cx="842.1" cy="658.9" r="5.9"/><circle cx="836.4" cy="681.6" r="5.9"/><circle cx="830.2" cy="704.2" r="5.9"/><circle cx="824.8" cy="726.9" r="5.9"/><circle cx="822.5" cy="749.6" r="5.9"/><circle cx="817.8" cy="772.2" r="5.9"/><circle cx="806.3" cy="794.9" r="5.9"/><circle cx="795" cy="817.5" r="5.9"/></g>
<polyline points="773.8,19.1 773.8,28.2 773.8,37.2 773.8,46.3 773.8,55.4 773.8,64.4 776,73.5 779,87.1 785.6,109.7 796.3,132.4 807,155 815.5,177.7 823.2,200.4 832.1,223 839.6,245.7 861,291 883.5,336.3 896.3,381.6 900.5,426.9 899.5,472.2 877.6,585.5 860.3,698.8" fill="none" stroke="#ff0000" stroke-width="8.2" stroke-linejoin="round"/><g fill="#ff0000"><circle cx="773.8" cy="19.1" r="5.7"/><circle cx="773.8" cy="28.2" r="5.7"/><circle cx="773.8" cy="37.2" r="5.7"/><circle cx="773.8" cy="46.3" r="5.7"/><circle cx="773.8" cy="55.4" r="5.7"/><circle cx="773.8" cy="64.4" r="5.7"/><circle cx="776" cy="73.5" r="5.7"/><circle cx="779" cy="87.1" r="5.7"/><circle cx="785.6" cy="109.7" r="5.7"/><circle cx="796.3" cy="132.4" r="5.7"/><circle cx="807" cy="155" r="5.7"/><circle cx="815.5" cy="177.7" r="5.7"/><circle cx="823.2" cy="200.4" r="5.7"/><circle cx="832.1" cy="223" r="5.7"/><circle cx="839.6" cy="245.7" r="5.7"/><circle cx="861" cy="291" r="5.7"/><circle cx="883.5" cy="336.3" r="5.7"/><circle cx="896.3" cy="381.6" r="5.7"/><circle cx="900.5" cy="426.9" r="5.7"/><circle cx="899.5" cy="472.2" r="5.7"/><circle cx="877.6" cy="585.5" r="5.7"/><circle cx="860.3" cy="698.8" r="5.7"/></g>
<polyline points="747,19.1 747,28.2 747,37.2 747,46.3 747,55.4 747,64.4 750.2,73.5 755.2,87.1 764.2,109.7 769.5,132.4 783,155 796.3,177.7 809.6,200.4 820.3,223 830.2,245.7 847.2,291 862.2,336.3 875.6,381.6 880.1,426.9 874.1,472.2 847.5,585.5 793.6,698.8" fill="none" stroke="#c98300" stroke-width="2.7" stroke-linejoin="round"/>
<polyline points="747,19.1 747,28.2 747,37.2 747,46.3 747,55.4 747,64.4 750.2,73.5 755.2,87.1 764.2,109.7 769.5,132.4 783,155 796.3,177.7 809.6,200.4 820.3,223 830.2,245.7 847.2,291 862.2,336.3 875.6,381.6 880.1,426.9 874.1,472.2 847.5,585.5 793.6,698.8" fill="none" stroke="#ffa500" stroke-width="1.7" stroke-linejoin="round"/>
<circle cx="747" cy="19.1" r="6.0" fill="#ffa500" stroke="#d18a00" stroke-width="0.7"/><circle cx="747" cy="28.2" r="6.0" fill="#ffa500" stroke="#d18a00" stroke-width="0.7"/><circle cx="747" cy="37.2" r="6.0" fill="#ffa500" stroke="#d18a00" stroke-width="0.7"/><circle cx="747" cy="46.3" r="6.0" fill="#ffa500" stroke="#d18a00" stroke-width="0.7"/><circle cx="747" cy="55.4" r="6.0" fill="#ffa500" stroke="#d18a00" stroke-width="0.7"/><circle cx="747" cy="64.4" r="6.0" fill="#ffa500" stroke="#d18a00" stroke-width="0.7"/><circle cx="750.2" cy="73.5" r="6.0" fill="#ffa500" stroke="#d18a00" stroke-width="0.7"/><circle cx="755.2" cy="87.1" r="6.0" fill="#ffa500" stroke="#d18a00" stroke-width="0.7"/><circle cx="764.2" cy="109.7" r="6.0" fill="#ffa500" stroke="#d18a00" stroke-width="0.7"/><circle cx="769.5" cy="132.4" r="6.0" fill="#ffa500" stroke="#d18a00" stroke-width="0.7"/><circle cx="783" cy="155" r="6.0" fill="#ffa500" stroke="#d18a00" stroke-width="0.7"/><circle cx="796.3" cy="177.7" r="6.0" fill="#ffa500" stroke="#d18a00" stroke-width="0.7"/><circle cx="809.6" cy="200.4" r="6.0" fill="#ffa500" stroke="#d18a00" stroke-width="0.7"/><circle cx="820.3" cy="223" r="6.0" fill="#ffa500" stroke="#d18a00" stroke-width="0.7"/><circle cx="830.2" cy="245.7" r="6.0" fill="#ffa500" stroke="#d18a00" stroke-width="0.7"/><circle cx="847.2" cy="291" r="6.0" fill="#ffa500" stroke="#d18a00" stroke-width="0.7"/><circle cx="862.2" cy="336.3" r="6.0" fill="#ffa500" stroke="#d18a00" stroke-width="0.7"/><circle cx="875.6" cy="381.6" r="6.0" fill="#ffa500" stroke="#d18a00" stroke-width="0.7"/><circle cx="880.1" cy="426.9" r="6.0" fill="#ffa500" stroke="#d18a00" stroke-width="0.7"/><circle cx="874.1" cy="472.2" r="6.0" fill="#ffa500" stroke="#d18a00" stroke-width="0.7"/><circle cx="847.5" cy="585.5" r="6.0" fill="#ffa500" stroke="#d18a00" stroke-width="0.7"/><circle cx="793.6" cy="698.8" r="6.0" fill="#ffa500" stroke="#d18a00" stroke-width="0.7"/>
<polyline points="623.9,19.1 623.9,28.2 623.9,37.2 623.9,46.3 623.9,55.4 642.1,64.4 687.1,73.5 738,87.1 787.7,109.7 810.2,132.4 823.7,155 834.4,177.7 842,200.4 848.1,223 853.7,245.7 865,291 873.9,336.3 889.4,381.6 891.3,426.9 890.4,472.2 874.5,585.5 844.1,698.8" fill="none" stroke="#008000" stroke-width="2.6" stroke-linejoin="round"/><g fill="#008000"><circle cx="623.9" cy="19.1" r="6.0"/><circle cx="623.9" cy="28.2" r="6.0"/><circle cx="623.9" cy="37.2" r="6.0"/><circle cx="623.9" cy="46.3" r="6.0"/><circle cx="623.9" cy="55.4" r="6.0"/><circle cx="642.1" cy="64.4" r="6.0"/><circle cx="687.1" cy="73.5" r="6.0"/><circle cx="738" cy="87.1" r="6.0"/><circle cx="787.7" cy="109.7" r="6.0"/><circle cx="810.2" cy="132.4" r="6.0"/><circle cx="823.7" cy="155" r="6.0"/><circle cx="834.4" cy="177.7" r="6.0"/><circle cx="842" cy="200.4" r="6.0"/><circle cx="848.1" cy="223" r="6.0"/><circle cx="853.7" cy="245.7" r="6.0"/><circle cx="865" cy="291" r="6.0"/><circle cx="873.9" cy="336.3" r="6.0"/><circle cx="889.4" cy="381.6" r="6.0"/><circle cx="891.3" cy="426.9" r="6.0"/><circle cx="890.4" cy="472.2" r="6.0"/><circle cx="874.5" cy="585.5" r="6.0"/><circle cx="844.1" cy="698.8" r="6.0"/></g>
<polyline points="781.3,21.3 781.3,26.1 781.3,31.1 781.3,36.4 781.3,42.1 781.3,48.3 781.3,55 781.3,62.5 781.3,70.8 803.8,80.1 824.1,90.7 835.2,102.9 841.7,117 843.8,133.3 845.5,152.5 850.2,175.1 858.1,201.9 868.5,233.8 877,271.8 880.9,317.3 878.2,371.9 869.3,437.5 857.6,516.3 841.8,611.2 817.1,725.3" fill="none" stroke="#ff00ff" stroke-width="2.6" stroke-linejoin="round"/><g fill="#ff00ff"><circle cx="781.3" cy="21.3" r="6.0"/><circle cx="781.3" cy="26.1" r="6.0"/><circle cx="781.3" cy="31.1" r="6.0"/><circle cx="781.3" cy="36.4" r="6.0"/><circle cx="781.3" cy="42.1" r="6.0"/><circle cx="781.3" cy="48.3" r="6.0"/><circle cx="781.3" cy="55" r="6.0"/><circle cx="781.3" cy="62.5" r="6.0"/><circle cx="781.3" cy="70.8" r="6.0"/><circle cx="803.8" cy="80.1" r="6.0"/><circle cx="824.1" cy="90.7" r="6.0"/><circle cx="835.2" cy="102.9" r="6.0"/><circle cx="841.7" cy="117" r="6.0"/><circle cx="843.8" cy="133.3" r="6.0"/><circle cx="845.5" cy="152.5" r="6.0"/><circle cx="850.2" cy="175.1" r="6.0"/><circle cx="858.1" cy="201.9" r="6.0"/><circle cx="868.5" cy="233.8" r="6.0"/><circle cx="877" cy="271.8" r="6.0"/><circle cx="880.9" cy="317.3" r="6.0"/><circle cx="878.2" cy="371.9" r="6.0"/><circle cx="869.3" cy="437.5" r="6.0"/><circle cx="857.6" cy="516.3" r="6.0"/><circle cx="841.8" cy="611.2" r="6.0"/><circle cx="817.1" cy="725.3" r="6.0"/></g>
</g>
<rect x="575.5" y="19.4" width="396" height="795" fill="none" stroke="#000" stroke-width="1.39"/>
<path d="M667.5 814.4v6M763.5 814.4v6M860.5 814.4v6M956.5 814.4v6M575.5 19.4h-6M575.5 109.5h-6M575.5 200.4h-6M575.5 290.4h-6M575.5 381.4h-6M575.5 472.4h-6M575.5 562.5h-6M575.5 653.5h-6M575.5 744.5h-6" stroke="#000" stroke-width="1.39" fill="none"/>
<text x="667.5" y="842.1" font-size="17.6" text-anchor="middle" textLength="37.1" lengthAdjust="spacingAndGlyphs">35.5</text>
<text x="763.5" y="842.1" font-size="17.6" text-anchor="middle" textLength="37.1" lengthAdjust="spacingAndGlyphs">36.0</text>
<text x="860.5" y="842.1" font-size="17.6" text-anchor="middle" textLength="37.1" lengthAdjust="spacingAndGlyphs">36.5</text>
<text x="956.5" y="842.1" font-size="17.6" text-anchor="middle" textLength="37.1" lengthAdjust="spacingAndGlyphs">37.0</text>
<clipPath id="c2"><rect x="1062.5" y="19.4" width="396" height="795"/></clipPath>
<path d="M1098.5 19.4V814.4M1159.5 19.4V814.4M1221.5 19.4V814.4M1282.5 19.4V814.4M1344.5 19.4V814.4M1406.5 19.4V814.4M1062.5 19.4H1458.5M1062.5 109.5H1458.5M1062.5 200.4H1458.5M1062.5 290.4H1458.5M1062.5 381.4H1458.5M1062.5 472.4H1458.5M1062.5 562.5H1458.5M1062.5 653.5H1458.5M1062.5 744.5H1458.5" stroke="#b0b0b0" stroke-width="0.87" stroke-dasharray="3.2 1.4" fill="none"/>
<g clip-path="url(#c2)">
<path d="M1125.9 22h0M1127.2 27.8h0M1126.9 31.9h0M1127.2 38.3h0M1127.3 44.9h0M1127.4 51.1h0M1127.9 56.9h0M1132 63.1h0M1132.8 68.3h0M1132 72.7h0M1131.8 76.4h0M1135 82.1h0M1136 87.8h0M1138.2 92.8h0M1142 96h0M1144.1 100.7h0M1146.8 106.5h0M1147.6 113.9h0M1153.8 119h0M1156.5 125h0M1161.8 128.7h0M1165.3 134.2h0M1168.8 139.2h0M1171.9 144.5h0M1176.5 146.7h0M1182.8 153.6h0M1184.6 156.6h0M1192 161.5h0M1191.6 165.1h0M1199 171.2h0M1202 176.9h0M1207.9 182.2h0M1209.6 186.9h0M1213.4 190.7h0M1216.4 196.2h0M1222.1 198.9h0M1223.1 203.9h0M1228.5 210.4h0M1231.2 212.9h0M1235.9 219.3h0M1237.8 223.7h0M1242.8 229.3h0M1246.5 233.1h0M1250.7 240.2h0M1254.5 245.2h0M1260.1 251.6h0M1261.7 255.3h0M1265.5 259.2h0M1270.4 266h0M1273.7 272.5h0M1275.4 277.7h0M1278.1 282.6h0M1280.8 287h0M1284.5 295h0M1289.2 301h0M1291 306.4h0M1294.1 310.6h0M1296.3 317.5h0M1299.1 321.9h0M1302.2 327.3h0M1304.2 331.9h0M1306.9 334h0M1309.4 342.2h0M1311.3 346.2h0M1312.8 351h0M1314.5 354.4h0M1317.7 360.7h0M1324.3 369h0M1324.2 375.2h0M1325.1 380.1h0M1333.4 385.4h0M1335.1 391.6h0M1333.5 399.3h0M1338.8 403.3h0M1342.1 408.9h0M1341.1 415.7h0M1347.5 421.7h0M1347.8 427.3h0M1351.1 431.4h0M1353.7 438.4h0M1354.9 445.3h0M1356.3 450.5h0M1356.8 455h0M1359.7 462.1h0M1362.2 467h0M1362.6 473.8h0M1367.1 480.1h0M1369.2 484.9h0M1370.7 489.6h0M1369.9 497.1h0M1372.6 503.1h0M1376.6 506.7h0M1375.1 513.1h0M1376.2 517.5h0M1380 526h0M1380.4 529.9h0M1379.6 535h0M1381.8 538.4h0M1385.6 544.5h0M1387.6 551.5h0M1386.5 557.9h0M1387.8 563.3h0M1389.1 567.3h0M1391.6 574.3h0M1391 581.1h0M1394 587.1h0M1393.7 592.6h0M1394.3 599.2h0M1392.5 606.3h0M1396.5 610.1h0M1397.2 615.9h0M1395.6 619.7h0M1397.4 625.4h0M1396.7 634.1h0M1397.1 639h0M1400.8 643.1h0M1401.7 648h0M1400.5 653.3h0M1402 656.2h0M1401.7 662.5h0M1403.1 669.5h0M1404.8 674h0M1404 679.9h0M1405.3 683.3h0M1405.8 688.2h0M1405.3 695.4h0M1406.3 701.1h0M1408.2 707.7h0M1407.6 711.7h0M1408.4 715.8h0M1409.1 722.6h0M1409.9 729.3h0M1411 734.8h0M1410.5 740.5h0M1412 746.1h0M1411.8 751.1h0M1412.2 755.3h0M1413.9 762.2h0M1413.9 766.1h0M1414.9 771.9h0M1416.2 776.4h0M1417.8 782.8h0M1418 789.8h0M1419.9 796.4h0M1421.5 800.7h0M1421.8 805.6h0M1422.4 810.3h0M1423.5 814.7h0M1426.3 819.8h0M1427.1 825.8h0M1126.2 21.6h0M1128.1 25.2h0M1126.4 31.2h0M1126.3 36.9h0M1126.9 41.2h0M1125.5 46h0M1126.7 50.4h0M1130.6 55.7h0M1131.2 62.7h0M1132.9 67.1h0M1133.3 72.6h0M1134.1 76.7h0M1134.2 82.3h0M1136.3 86.6h0M1136.9 94.2h0M1144.2 98.7h0M1144.6 105.2h0M1148.5 112.1h0M1151.2 115.1h0M1153.5 120.1h0M1159.8 126.1h0M1159.5 131.4h0M1165 138.6h0M1171.1 142.1h0M1175.2 147.2h0M1178.8 151.1h0M1183.5 154.4h0M1186.3 159.3h0M1190.3 163.1h0M1194.2 168.6h0M1204.6 175.6h0M1204.7 180.6h0M1210.3 186.2h0M1216 193h0M1220.8 201.1h0M1225.5 206.4h0M1231.2 213.1h0M1234 217.7h0M1236.7 221.8h0M1242 228.3h0M1247.1 233.7h0M1249.8 239.9h0M1256.9 245h0M1260.7 251.3h0M1262.8 257.9h0M1266.3 260.7h0M1268.9 267.8h0M1274.3 273.5h0M1276.6 279h0M1278.6 283.4h0M1283.2 289.6h0M1283.9 294h0M1288.2 298.1h0M1290.7 304.2h0M1292 308.2h0M1295.7 312h0M1298.6 319.1h0M1300.9 323.9h0M1306.7 330h0M1308.5 337.5h0M1310 339.7h0M1312.6 345.3h0M1316.2 351.5h0M1319.4 357.5h0M1317.4 360.5h0M1329.2 367h0M1324.5 374.2h0M1330 380.2h0M1335.9 385.3h0M1329.8 388.8h0M1339.4 396.3h0M1336.9 400.2h0M1340.5 408.2h0M1339.7 411.1h0M1345.6 416.9h0M1349 423.2h0M1352.4 429.7h0M1351.4 434.9h0M1356.7 439.9h0M1353.1 444.2h0M1354.9 449.2h0M1357.1 455.8h0M1362.7 462.4h0M1360.2 465.4h0M1365.7 472.5h0M1366.9 477.4h0M1366.8 482.6h0M1369.2 488.5h0M1369.7 493.7h0M1373.1 497.9h0M1371.6 502.8h0M1374.6 508.1h0M1376.5 514.4h0M1378.8 517.4h0M1382.2 525.9h0M1381.1 531h0M1384.5 536.8h0M1385.8 544.5h0M1383.1 549.6h0M1389.8 554.2h0M1391.2 562.6h0M1390.1 569.5h0M1392.2 572.7h0M1392.6 580.1h0M1397.1 585h0M1397.1 592.4h0M1394 599h0M1395.1 604.9h0M1396.8 608.9h0M1398.3 613.4h0M1398.6 617.8h0M1401.1 625.3h0M1400.9 631.1h0M1399.3 635.5h0M1400.9 641.2h0M1401.3 648.3h0M1400.9 652.3h0M1403.4 654.7h0M1402.5 662h0M1403.8 665.2h0M1404.3 673.3h0M1405 679.5h0M1406 682.6h0M1406.5 688.9h0M1406.6 695.5h0M1408.2 701.1h0M1408.9 705.5h0M1407.6 710.9h0M1409.2 716.8h0M1409.6 722.6h0M1411.4 729.3h0M1410.2 734.4h0M1411.9 739.4h0M1413 744.6h0M1412.1 752h0M1413.6 753.9h0M1414 760h0M1413.2 766.2h0M1414.2 772.6h0M1414.8 775.4h0M1416.5 781.7h0M1417.6 787.3h0M1418.9 792.2h0M1419.9 798.2h0M1422.3 803.6h0M1422.6 809.1h0M1424.3 815.1h0M1425.4 821.3h0M1125.7 19.7h0M1125.9 26.6h0M1126.7 33.8h0M1127.5 38.3h0M1126.9 43.3h0M1128.9 48.3h0M1128.9 55h0M1130 57.3h0M1131.3 63.1h0M1132.2 69.1h0M1134.8 74.9h0M1136.1 78.9h0M1138.5 83.1h0M1134.7 88.9h0M1139.3 94.9h0M1144.6 100h0M1145.7 104.6h0M1150.9 111.4h0M1155.8 116.7h0M1161.7 123.1h0M1163.1 126.1h0M1166.5 133h0M1167.5 137.6h0M1179.9 145.2h0M1182.6 149.9h0M1183.2 155.2h0M1191.6 160.1h0M1195.6 163.7h0M1201.4 168h0M1202.9 174.6h0M1206.8 180.3h0M1211.6 184.3h0M1216.6 191.1h0M1220.6 196.5h0M1220.5 200.5h0M1225.5 203.7h0M1229.7 210.8h0M1238.7 217.5h0M1243.7 221.4h0M1245.4 228.1h0M1251.3 235h0M1253.8 241.5h0M1256.5 246.4h0M1260 253.6h0M1266.1 258.4h0M1266.7 262.4h0M1272.2 266.4h0M1272.5 270.6h0M1275.6 274.6h0M1279.2 280.9h0M1288.9 286.3h0M1285 292h0M1287.4 298.1h0M1296.9 302.9h0M1295.2 307.4h0M1298.6 312h0M1297.9 318.9h0M1307 324.8h0M1311.4 331h0M1313.9 335.8h0M1314 341.9h0M1321.3 350.2h0M1321.3 354.9h0M1322 361.9h0M1328 368.8h0M1327.8 374.2h0M1327.7 380.1h0M1334.7 383.5h0M1338 390.9h0M1338.6 393.7h0M1341.4 400.8h0M1341.9 409.4h0M1343.5 412.9h0M1347.9 420h0M1349.7 423.3h0M1353.2 429.8h0M1354.4 434.6h0M1356.4 440.8h0M1354.5 447h0M1360.5 451h0M1361.8 455.3h0M1359 459.7h0M1363.9 463.5h0M1363.4 468h0M1365.2 475.1h0M1367.8 478.1h0M1367.6 485.2h0M1372.1 489.5h0M1372.8 495.6h0M1371.5 502.6h0M1372.7 509.5h0M1374.9 516h0M1380 521.4h0M1379.2 527.6h0M1381.2 535h0M1382.7 540.2h0M1381.6 545.2h0M1384.2 550.7h0M1385.3 554.5h0M1388.2 558.7h0M1386.6 565.5h0M1387.1 572.4h0M1388.3 576.2h0M1390.2 582h0M1391.1 588h0M1393.9 595.4h0M1393.7 603.2h0M1392.7 606.3h0M1394.4 611.3h0M1395.4 617.1h0M1398.3 623.5h0M1400.2 629.3h0M1400.9 635.4h0M1400.7 643.2h0M1401.9 647.3h0M1401.9 652.5h0M1403.6 656.1h0M1403.3 660.3h0M1405.2 663.8h0M1404.5 669.6h0M1404.8 673.9h0M1409.2 680.9h0M1405.9 685.1h0M1408.9 691.9h0M1409.1 695.1h0M1408 702h0M1410.2 709.3h0M1412.1 713.4h0M1411.4 716.8h0M1412 721.5h0M1413.5 727.9h0M1414.4 731.5h0M1413.9 737.4h0M1416.7 743.4h0M1414.5 748.9h0M1416.4 755.8h0M1418.3 763.7h0M1416.2 768.4h0M1416.4 771.3h0M1420.2 775.5h0M1418.8 782.8h0M1418.8 788.1h0M1421.7 793.1h0M1420.5 798.8h0M1422.4 805h0M1424.5 812.1h0M1426.5 816h0M1426.4 822.3h0M1126.9 19.3h0M1127.4 24.4h0M1127.9 27.6h0M1127.7 34.5h0M1127.5 39.8h0M1128.4 47.5h0M1127.6 52.8h0M1130.5 57.9h0M1132.1 64.7h0M1132.9 70.1h0M1136.7 76h0M1135.4 81.3h0M1136.6 86.5h0M1138.4 91.4h0M1141.6 97.4h0M1140.4 102.8h0M1147.3 108.4h0M1154.9 114.6h0M1151.1 119.3h0M1158.6 125.7h0M1162.9 130.9h0M1172.1 137.3h0M1175.9 143.8h0M1178.8 151h0M1182.5 155.1h0M1192 162.3h0M1193.3 166.2h0M1200.3 173.1h0M1204.1 176.4h0M1211.3 182.4h0M1211.1 186.1h0M1214.6 189.3h0M1222.2 194.5h0M1221.2 199.7h0M1225.3 205.5h0M1233.1 211.2h0M1238.4 215.7h0M1244.6 221.3h0M1244.6 226.8h0M1248.7 230h0M1254.5 236.9h0M1262.3 241h0M1266.4 243.1h0M1269.2 247.8h0M1272.2 253.8h0M1279.2 262.1h0M1284.1 268.1h0M1284.1 271.6h0M1288.4 277.4h0M1289.4 283.4h0M1295.5 291.1h0M1297.8 294.7h0M1300.7 302.1h0M1304.1 306.7h0M1306.1 310.7h0M1305.1 317.1h0M1308.9 324.9h0M1312.2 330.3h0M1313 334.3h0M1314.8 340.4h0M1313.3 344.5h0M1316.6 348.4h0M1317.4 355h0M1319.5 362.1h0M1322.3 369.6h0M1328 374.6h0M1330 381.6h0M1329.9 386.3h0M1335.4 393.1h0M1338.1 399.3h0M1342.8 405.2h0M1342.8 409.1h0M1344.2 415.2h0M1347.2 422.1h0M1353.6 425.3h0M1349.9 430.1h0M1353.1 436.7h0M1353.8 442h0M1356 446.7h0M1359.8 451.8h0M1358 455.2h0M1360.4 460.5h0M1361.6 468.3h0M1366.3 474.1h0M1367.7 480h0M1373.6 486.2h0M1371.4 492.9h0M1371.9 497.9h0M1377 501.9h0M1377.2 506.3h0M1378.4 513.4h0M1380.7 517.4h0M1384.9 525.2h0M1382.1 529.4h0M1386.6 534.8h0M1390 541.4h0M1388.1 546.6h0M1389.8 552.3h0M1390.8 557.8h0M1393.6 563.5h0M1396.1 570.9h0M1395.3 578.2h0M1393.4 585.1h0M1396 588.4h0M1394.6 595.2h0M1392 598.7h0M1395 606.3h0M1397.3 611.2h0M1395.6 616h0M1395.6 620.4h0M1398.8 623.6h0M1396.9 631h0M1398.5 635.9h0M1396.8 640.3h0M1401.1 647h0M1401.7 652.2h0M1401.7 656h0M1401.9 662.6h0M1404.1 668.1h0M1406.1 673.7h0M1404.7 678.5h0M1404.4 681.8h0M1406.7 688.1h0M1408.6 693.7h0M1408.7 699h0M1409.6 703.9h0M1411.5 709.6h0M1409.8 712.9h0M1411.9 719.2h0M1413.5 723.1h0M1413.3 730.7h0M1411.4 735.8h0M1412.6 739.5h0M1415.4 743.7h0M1414.6 748.3h0M1414 755h0M1417.9 759.4h0M1414.9 764.4h0M1417.4 769.4h0M1416.9 774h0M1421.8 780.5h0M1422.1 785.1h0M1422.4 789.9h0M1422.7 797.1h0M1427.2 804.4h0M1428.4 808.4h0M1429.1 814h0M1428.8 820.4h0M1431.5 823.7h0M1127.1 20.7h0M1127.6 24h0M1127.8 30.5h0M1128 38h0M1128.6 44.4h0M1130 49.7h0M1131.1 55.1h0M1132.3 58.7h0M1133.4 66.2h0M1136.7 74h0M1138.5 78.2h0M1140.4 84.7h0M1143.1 88.4h0M1140.6 94.2h0M1146.8 98.8h0M1152.8 105.8h0M1155.6 110.3h0M1159.5 117.1h0M1160.5 120.8h0M1164.2 127.1h0M1172.2 133.3h0M1178.1 137.9h0M1182.3 142.4h0M1183.3 146h0M1194.8 151.9h0M1192.7 155.7h0M1198.4 161.2h0M1204 165.3h0M1208.6 171.5h0M1213.9 177.8h0M1222.5 184.7h0M1219.7 189.6h0M1226.8 193.3h0M1226 199.8h0M1233.4 202.8h0M1235.8 208.2h0M1235.6 211.8h0M1241 215.6h0M1244.3 222.9h0M1250.8 228.5h0M1255.4 233.5h0M1260.7 239.6h0M1262.6 245.1h0M1266.7 251.3h0M1273 255.8h0M1272.7 259.8h0M1279.2 265.8h0M1287.2 271.9h0M1286.5 277.2h0M1286.9 283.4h0M1289.9 290.1h0M1288.5 297.3h0M1296.2 302.9h0M1297.3 309h0M1296.8 311.9h0M1303.4 319.4h0M1303.4 323.4h0M1302.3 327h0M1310.9 330.8h0M1310.2 338.1h0M1310.2 343h0M1315.6 348.7h0M1316.4 353.3h0M1324.1 360.1h0M1323.1 363.5h0M1326.2 369.4h0M1328.9 373h0M1332.9 378.7h0M1331.1 381h0M1334.2 387.3h0M1333.9 393.1h0M1337.2 396.6h0M1337.9 401.8h0M1344.7 407.3h0M1343.5 411.7h0M1345.2 417h0M1349.1 423.1h0M1349.7 429.6h0M1351.9 434.8h0M1353.1 439.2h0M1352.4 445.3h0M1356.4 450.6h0M1361.3 455.7h0M1360.6 460.5h0M1361.6 465.4h0M1365.5 471.7h0M1366.2 476.2h0M1371 481.1h0M1371.5 485.3h0M1373.6 489.6h0M1372.8 493.8h0M1377.5 500.1h0M1379.9 505.4h0M1379 508.4h0M1381.6 515.3h0M1381 518.9h0M1383.7 523.6h0M1385.6 529.5h0M1384.5 534.9h0M1387.1 539h0M1389.5 546.1h0M1390.7 552.2h0M1385.6 557.1h0M1389.8 564.2h0M1392.5 571h0M1393.2 576h0M1396 581.3h0M1393.4 586.3h0M1396.8 590.2h0M1397.5 597.6h0M1397.7 601.1h0M1398.9 608h0M1398.6 614.2h0M1402.3 620.4h0M1404.3 625.3h0M1403.4 630.7h0M1404.2 634.9h0M1401 638.6h0M1402.3 643h0M1403.4 649h0M1403.5 655.9h0M1405.2 660.4h0M1408.4 666.8h0M1406.7 671.9h0M1408.1 678h0M1409.8 685.6h0M1409.2 690.6h0M1411.9 695.3h0M1412.8 702.3h0M1414.9 705.9h0M1413.8 712.5h0M1415.7 718.7h0M1414.5 724.3h0M1417.3 731.2h0M1417.7 738.4h0M1417.4 742.3h0M1416.6 747.1h0M1416.7 753.9h0M1417.5 758.5h0M1418.4 763.2h0M1417.6 768.2h0M1417.9 773.1h0M1418.6 778.1h0M1419.6 783.1h0M1421.4 787.5h0M1421.7 792.7h0M1423.8 798.7h0M1422.9 804.8h0M1427 812.6h0M1427.4 816.4h0M1428.2 822.8h0M1126.4 21.7h0M1126.1 26.2h0M1127.5 29.1h0M1125.1 34.6h0M1127.4 41.2h0M1127 48.2h0M1128.3 54.1h0M1130.8 59.6h0M1132.4 65.7h0M1137.3 71.2h0M1137.1 78.3h0M1140.5 84.1h0M1142.3 87.5h0M1143.7 94.5h0M1146.7 98h0M1153 102.6h0M1154.8 107.2h0M1158.7 111.1h0M1157.8 117.2h0M1165 124.4h0M1167 129.1h0M1172.4 132.7h0M1177.7 139h0M1186.4 147.1h0M1188.6 152.8h0M1197.5 158.7h0M1204.1 164.7h0M1207.3 169.3h0M1209.1 173.3h0M1215 181.7h0M1219 185.1h0M1227.6 193.4h0M1230.1 198h0M1236.1 203.2h0M1243.9 208.8h0M1246.9 215.6h0M1249.6 223.2h0M1256.1 227h0M1262.2 233.5h0M1266.1 238.4h0M1266.4 241.3h0M1269 245.5h0M1274.4 252.7h0M1280.3 260.4h0M1282.1 265.1h0M1286.6 270.8h0M1286.4 277.4h0M1289.4 281.8h0M1289.9 288.4h0M1293.1 292.4h0M1300 299.1h0M1302.2 304.3h0M1304.7 309.6h0M1306.1 314.2h0M1308.6 322.3h0M1308.4 325.9h0M1311.6 329.3h0M1312.2 335.3h0M1317.4 339.9h0M1317.6 345.1h0M1318.3 348h0M1317.5 351.7h0M1318.5 356.2h0M1320.5 362.1h0M1325.1 367.2h0M1322.8 371.5h0M1330.7 376.1h0M1328.5 380.6h0M1332.3 385.5h0M1335.7 389.8h0M1340.2 398.9h0M1341.7 402.9h0M1345 409.6h0M1345.6 413.2h0M1346.9 416.6h0M1349.5 421.5h0M1351.1 425.1h0M1356.6 428.9h0M1357.1 435h0M1360.4 440h0M1363.6 447.5h0M1364 453.3h0M1362.8 459.2h0M1367.7 462.9h0M1369.4 468.4h0M1367.8 471.6h0M1371.6 477.8h0M1373.6 483.6h0M1374.4 489.3h0M1376.9 493.7h0M1376.6 497.4h0M1380.5 504.8h0M1377.5 510.6h0M1382.4 514.6h0M1384.1 521.5h0M1383.7 527.6h0M1387.7 535.4h0M1387.6 540.6h0M1387.2 546.4h0M1389.4 554.1h0M1391.5 556.1h0M1393.5 560.4h0M1393 565.1h0M1397.1 572.2h0M1395.4 578h0M1395.8 583.5h0M1394.5 589.7h0M1397.7 596.2h0M1396.8 600.4h0M1399.8 604.4h0M1398.2 611.8h0M1403.2 618h0M1400.9 623h0M1401.1 629.3h0M1403.3 634.5h0M1403 639.7h0M1405.8 644.5h0M1403.8 649.8h0M1404.6 652.7h0M1403.6 658h0M1403.9 665.2h0M1405.1 670.5h0M1405.7 676.6h0M1407.6 682.1h0M1405.9 689.4h0M1408.8 693h0M1408.8 698.8h0M1410.8 702.5h0M1409.1 708.5h0M1411.1 713.2h0M1411.2 716.4h0M1411.6 721.2h0M1413.3 726.1h0M1413.3 732.5h0M1413.5 737h0M1413.6 742h0M1416.5 746.7h0M1414.8 750.5h0M1415.9 757.1h0M1416.2 760.7h0M1417.3 768.4h0M1419.9 774.9h0M1423 783.5h0M1423.9 790h0M1426.8 794.7h0M1426.2 798.9h0M1427.9 804.3h0M1427.7 808.7h0M1429.7 817h0M1430.7 823.5h0M1128.8 19.5h0M1127.6 24.9h0M1128 30.6h0M1127.9 33.3h0M1129.6 39.1h0M1129.3 44.1h0M1128.5 50.7h0M1131.4 57.5h0M1133.1 65.1h0M1134.4 69.4h0M1137.9 73h0M1145 79h0M1142.2 84.6h0M1144.4 89.2h0M1141.5 91.4h0M1149.2 98.6h0M1153 105.4h0M1156.4 112.8h0M1163 118.6h0M1164.5 122.2h0M1166.3 128.1h0M1169.4 134h0M1172.7 138.6h0M1175.7 144.2h0M1179.8 151h0M1188.4 156.2h0M1194.1 162.4h0M1197.3 166.8h0M1206.6 172.6h0M1206.2 176h0M1214.5 183.5h0M1215.6 187.8h0M1219.5 191.9h0M1224.3 196.2h0M1231.6 201.5h0M1234.7 205.9h0M1242.2 209.9h0M1242.3 216.2h0M1246.1 221.8h0M1256 227.7h0M1259.4 234.6h0M1267.4 239.9h0M1264.7 244.6h0M1270.3 250.9h0M1278.5 256.5h0M1273.2 261.5h0M1277.7 265.4h0M1284.2 270h0M1285.5 275.2h0M1286.2 280h0M1287.7 282.5h0M1290.8 289.2h0M1294.5 295.7h0M1301.9 299.7h0M1301.4 305.6h0M1304.9 309.4h0M1307.1 315.5h0M1312.7 321.3h0M1314.4 325.7h0M1313.5 329.8h0M1319.4 335.4h0M1322.1 340.4h0M1325.8 345.7h0M1326.5 348.6h0M1331.7 354.6h0M1331.7 359.8h0M1330.8 366.2h0M1338.9 371.1h0M1341.2 376.6h0M1342.4 383.4h0M1346.9 388.9h0M1350.4 395h0M1345.8 398.2h0M1353 404h0M1354.6 409.1h0M1351.1 417.4h0M1354.4 421.5h0M1357.1 427.4h0M1356.2 432.2h0M1359.5 434.2h0M1360.6 439.4h0M1361.1 443.6h0M1362.2 449.7h0M1362.2 454.3h0M1366.2 460.1h0M1366.7 465.6h0M1371.3 472.5h0M1370.3 477h0M1377.5 484.1h0M1375.9 487.8h0M1375.9 495.1h0M1378.3 498.1h0M1380.1 505h0M1383.2 508.9h0M1384.2 514h0M1383.6 520.1h0M1381.7 527.6h0M1383.5 533.1h0M1386.7 538.4h0M1384.3 542h0M1387.2 547.9h0M1390.1 554.1h0M1389.3 557.3h0M1390 560h0M1388.2 567.4h0M1391 573.4h0M1392.7 580.9h0M1391.2 586.5h0M1394.2 592.5h0M1393.2 598.8h0M1393.4 605h0M1397.1 609.6h0M1396.9 613.6h0M1398.6 618.5h0M1399.2 622.7h0M1399.2 629.1h0M1401.2 634.4h0M1402.7 643.2h0M1404.1 645.7h0M1403.6 650.9h0M1406 656.9h0M1407.3 662.3h0M1409.5 666.1h0M1406.7 671.7h0M1409.7 677.2h0M1408.8 684.4h0M1411.4 689.3h0M1412.8 696.5h0M1411.9 702.5h0M1411.9 708.9h0M1414.5 716.1h0M1416.1 723.4h0M1413.5 726.7h0M1415.6 731.9h0M1418.2 736.9h0M1415.6 740.2h0M1415.8 746.3h0M1418.9 750.6h0M1420.2 756.3h0M1420.3 760.6h0M1418 765.3h0M1422.2 770.9h0M1420.6 776.2h0M1424.9 784.7h0M1425.7 789.9h0M1428.2 796.7h0M1430.2 803.4h0M1431.9 810.3h0M1433.9 816.2h0M1432.9 822.4h0M1129.4 21.8h0M1129.9 26.9h0M1129.3 32h0M1130.3 37.4h0M1130 42.5h0M1130.1 48.3h0M1130.7 53.4h0M1132.6 61.6h0M1134.7 66.4h0M1139.6 71h0M1143.9 77.8h0M1145.1 83.1h0M1149.1 88.2h0M1146.8 94.2h0M1150.1 96h0M1158.6 103.9h0M1156.6 107.8h0M1155.9 111.7h0M1162.3 114.9h0M1165.7 121.6h0M1171.7 129.3h0M1177 133.5h0M1175.3 141.6h0M1186.4 146.5h0M1187.6 150.2h0M1193.8 156.5h0M1200.5 163h0M1197.8 167.1h0M1205 172.4h0M1211.5 179.1h0M1218.2 183.5h0M1222.2 190h0M1225.4 195.6h0M1231.8 200.4h0M1234.7 207.4h0M1243.5 213.9h0M1246.4 220.5h0M1248.4 228.3h0M1256 233.3h0M1264.3 238.6h0M1262.1 245.8h0M1270.7 251.8h0M1272.4 257.4h0M1277.8 263.6h0M1281.2 269.7h0M1284.3 273.6h0M1286.1 275.7h0M1292.8 283h0M1298.9 289.6h0M1296.9 294.5h0M1306.5 300.2h0M1305.2 306.2h0M1312 313.9h0M1312.6 319.3h0M1318.7 321.5h0M1319 328.3h0M1320.8 332.2h0M1323.6 337.5h0M1324.8 345.9h0M1329.3 349.9h0M1333.2 355.7h0M1335.1 358.9h0M1337.5 366.3h0M1336.2 373.2h0M1343.5 376.1h0M1342.7 381.8h0M1347.9 388.5h0M1348.2 394.8h0M1351.8 400.8h0M1353.5 407.5h0M1352.1 414.1h0M1356.9 419.2h0M1356.7 423.1h0M1357.9 427.2h0M1360.1 433.9h0M1361.8 440.3h0M1362.6 444.5h0M1363.7 450.8h0M1361.7 456.3h0M1366.2 463.5h0M1367.2 468.7h0M1368.9 473.1h0M1370.5 480.3h0M1374.2 485.7h0M1373.6 488.3h0M1374.9 495.5h0M1375.1 501.6h0M1377.9 504.3h0M1377 510.4h0M1380.1 517.3h0M1378.1 520.4h0M1380.6 526.2h0M1382.4 530.8h0M1386.7 538.1h0M1385.4 541.8h0M1387.4 544.7h0M1386.1 549.9h0M1388.5 557.4h0M1391.3 562h0M1392.2 567.3h0M1392.6 572.8h0M1397.8 578.5h0M1396.1 583.3h0M1398.5 590.9h0M1400.1 596.4h0M1396.9 601.9h0M1399.6 609.5h0M1400.3 613.9h0M1402.5 620.8h0M1404.4 626.2h0M1405.6 634.2h0M1407.2 638.9h0M1407.6 645.8h0M1407.5 649.9h0M1410.7 657.7h0M1409.2 660.9h0M1409.4 668.5h0M1409.3 672.7h0M1413.3 680.1h0M1415.1 684.8h0M1412.8 689.5h0M1414.4 695.4h0M1415.2 701.9h0M1416.1 705.9h0M1416.1 712h0M1417.4 716.5h0M1415.8 720.7h0M1417.5 725.1h0M1417.5 730h0M1419.9 735.3h0M1416.9 740.2h0M1418.3 743.7h0M1415.9 748.4h0M1418 753.3h0M1419.9 758.4h0M1418 762.6h0M1419 767.4h0M1419.2 773.9h0M1420.8 780.5h0M1423.3 786.1h0M1423.1 792.6h0M1424.3 798.4h0M1426.4 802.2h0M1426.5 806.1h0M1425.5 811.5h0M1428.8 818h0M1427.7 823.7h0M1127.3 20.7h0M1127.5 26.1h0M1127.4 33.7h0M1128.1 36.4h0M1128.7 41.1h0M1129.2 47.2h0M1130.9 55.1h0M1133.1 61.8h0M1135.2 65.5h0M1138.2 72h0M1143.4 76.2h0M1144.4 80.5h0M1143.9 84.9h0M1145.2 88.7h0M1151.4 97h0M1153.6 101.5h0M1157 106.4h0M1160.5 113.4h0M1162.7 116.1h0M1173.2 124.2h0M1172.8 127.5h0M1180.7 134.5h0M1183.8 141.1h0M1185.4 144.8h0M1195.1 150.1h0M1199.1 155.5h0M1200.1 161.4h0M1210.7 168.4h0M1212.8 175.3h0M1218.4 179.6h0M1227.2 185.8h0M1231.7 188.8h0M1239.5 197.1h0M1241 201.7h0M1244.9 206.8h0M1253.6 212.6h0M1257.6 219.9h0M1263.1 224.7h0M1265.4 232.1h0M1272.1 236.4h0M1274.4 241.3h0M1278.3 244.7h0M1280.8 248.9h0M1284.6 255.7h0M1287 261.1h0M1293 266.9h0M1290.8 272.2h0M1293 277.6h0M1297.7 284.6h0M1298.5 288.2h0M1297.7 291.7h0M1306.6 300h0M1307 305.5h0M1306.9 313.3h0M1313.6 318.2h0M1312.3 323.9h0M1319.2 329.4h0M1320.4 332.6h0M1321.6 341.4h0M1328.3 344.9h0M1329.2 351.5h0M1332.2 358.5h0M1334.3 360.8h0M1334.5 367h0M1331.5 370h0M1339.3 375.3h0M1339.3 381.6h0M1341.2 387.6h0M1345.2 394.8h0M1346.6 401.8h0M1348.6 405.1h0M1350.5 411h0M1350.6 417.6h0M1349.6 420.6h0M1352.6 428.8h0M1359.2 431.9h0M1357.7 437.7h0M1359.9 445.2h0M1361.9 449.5h0M1362.1 457.7h0M1363 461.2h0M1368.3 467.4h0M1370.7 471.8h0M1370.8 475.4h0M1374.8 481.1h0M1373.8 488.2h0M1375.2 492.4h0M1381.1 498.5h0M1380.4 503.7h0M1381.1 509.5h0M1382.2 514.1h0M1386.8 518h0M1385.9 522h0M1385.3 526h0M1387 530.1h0M1385.3 536.3h0M1388.7 542.1h0M1392.6 548.4h0M1394.4 554.5h0M1393.6 560.7h0M1394.5 566h0M1396 568.7h0M1394 574.5h0M1395.4 581.5h0M1396.5 586.9h0M1398.2 593.9h0M1399.5 599.3h0M1400.3 607.4h0M1399.9 611.5h0M1401.7 619.3h0M1404.7 626h0M1403.2 630.6h0M1402.8 633.8h0M1407.1 640.2h0M1408.9 644.9h0M1409.4 650.3h0M1408.4 655.9h0M1411.7 663.4h0M1413.1 667h0M1412.6 672.2h0M1414.1 679.1h0M1413.9 682.1h0M1414.3 687.5h0M1414.8 692.2h0M1414.2 698.2h0M1413.6 702.7h0M1415.3 707.4h0M1417.3 715h0M1418.4 719.9h0M1417.6 726.4h0M1418 731.4h0M1419 734.1h0M1417.9 740.6h0M1419.4 745.1h0M1421 751h0M1421.9 756.6h0M1421.7 760.5h0M1421.4 768.2h0M1422.9 773.2h0M1425 778.9h0M1425.7 783.7h0M1428.1 791.7h0M1427 795.6h0M1428.7 802.5h0M1429.3 808.3h0M1434 816.8h0M1434.2 822h0M1129.4 20.3h0M1127.3 25.6h0M1128.7 32.8h0M1127.5 40.6h0M1129.1 45.4h0M1131.1 51.2h0M1132.9 56.8h0M1133 61.2h0M1135.3 67.2h0M1138.6 73.4h0M1144.6 78.2h0M1148.2 83.5h0M1145.3 88.1h0M1153.8 97.1h0M1154.1 103.2h0M1158.8 106.3h0M1160.7 112h0M1164.2 117.2h0M1166.3 121.7h0M1171.4 124.4h0M1173.8 130.1h0M1176.1 133.4h0M1182.6 138.8h0M1185.9 144h0M1190.9 148.1h0M1195.6 153.8h0M1200.1 158.7h0M1206.2 162.5h0M1213 169.8h0M1221.1 175.6h0M1226.6 183h0M1233.1 188.4h0M1234.9 193.4h0M1240.9 198.9h0M1245.6 204.6h0M1250.6 210.6h0M1254.8 216.2h0M1255.7 221.9h0M1263.5 228.1h0M1267.6 235.2h0M1268.9 241.6h0M1272 246.1h0M1281.2 252.6h0M1281.5 258.2h0M1285.1 265.4h0M1288.1 272.6h0M1293.2 277.6h0M1293.2 283.5h0M1300.3 289.5h0M1304.4 295.6h0M1302.8 299.6h0M1308.3 303.2h0M1310.2 310.7h0M1307.8 315.4h0M1312.5 321.7h0M1320.3 326.6h0M1321.4 330.4h0M1325.3 336.4h0M1327.7 343.1h0M1326.8 348.8h0M1326.9 352.2h0M1325.8 359.5h0M1328.6 363h0M1330.4 369.9h0M1330.6 375.6h0M1339.4 381.7h0M1340.9 389.4h0M1342.4 393.1h0M1341.5 396.3h0M1346.8 402.9h0M1346.7 406.7h0M1351.2 411.3h0M1351.5 417.4h0M1357.7 420.7h0M1358.5 426.1h0M1362.1 430.6h0M1362.9 436.3h0M1368.1 440.8h0M1367.9 447.1h0M1368.7 452.2h0M1368.7 456.4h0M1373.8 460.8h0M1373.5 467.6h0M1373.9 473.5h0M1377.2 477h0M1380.3 481.2h0M1377.4 487h0M1381.9 491.7h0M1383.3 496.4h0M1382.6 502.6h0M1385.6 507h0M1386.9 511.6h0M1386 516.7h0M1388.4 521.3h0M1389.1 525.1h0M1390.6 530.7h0M1392.5 537.1h0M1388.7 541.2h0M1393.5 546.3h0M1393.7 551h0M1396.1 555.4h0M1397.5 560.4h0M1397.3 565.4h0M1398.8 568.3h0M1400.2 573.9h0M1400.6 579.3h0M1398.5 587.5h0M1401.2 592.8h0M1401.8 600.1h0M1400.2 604.6h0M1401.1 609h0M1401.8 615.2h0M1402.7 621h0M1400.8 623.4h0M1401.9 630.1h0M1401.5 636.5h0M1405.4 639.8h0M1402.6 644.7h0M1404.2 650.7h0M1407.5 655.1h0M1407.3 660.7h0M1409.8 665.3h0M1409.8 671.8h0M1409.4 674.9h0M1411 682.8h0M1413.7 686.1h0M1411 691.6h0M1411.7 696.8h0M1413 703.8h0M1415.8 708.4h0M1417.1 714.4h0M1415.2 719h0M1416 726.1h0M1416.6 730.9h0M1417.6 736.5h0M1418.7 742.7h0M1420.2 747.8h0M1418.5 754.4h0M1420.8 760.9h0M1419.6 766.9h0M1421.9 772.2h0M1422.4 777.3h0M1425.2 783.3h0M1428 787.9h0M1427.2 793h0M1429.2 800.8h0M1431.9 807.6h0M1432.2 814.4h0M1435.1 820.5h0M1129.6 20.4h0M1129.5 24.2h0M1129.5 28.3h0M1129.5 32.1h0M1130 36.7h0M1130.2 40.8h0M1129.4 48.4h0M1132.5 53.2h0M1133 58.7h0M1134.5 64.8h0M1139.4 71.4h0M1143.8 77.9h0M1146.5 85.4h0M1148.6 91.5h0M1154.7 98.1h0M1158.6 102h0M1163.6 107.1h0M1166.8 114.6h0M1169.1 120.6h0M1172.3 124.6h0M1175.3 130.8h0M1180.3 134.8h0M1182.5 141.4h0M1190.3 146.5h0M1191.1 151.9h0M1202.6 156.7h0M1204.4 161.8h0M1207.5 169h0M1213.4 175h0M1217.5 179.4h0M1221.7 184.2h0M1231.2 190.2h0M1230.9 196h0M1231.2 201.3h0M1236.9 204.5h0M1247.6 211.9h0M1246.8 215.8h0M1252.4 221.3h0M1257.8 225.6h0M1264 234.3h0M1266.8 237.6h0M1265.7 243.1h0M1271.9 246h0M1280.3 252.7h0M1279.7 257.4h0M1289.6 263.8h0M1291.1 267.8h0M1297.7 275.4h0M1298.9 279.6h0M1300.2 284.8h0M1301.1 289.4h0M1307.8 296.1h0M1310.8 301.2h0M1313.4 307h0M1313.7 312.3h0M1318.9 317.7h0M1321.3 323.1h0M1323.8 327.1h0M1325.4 331.7h0M1324.9 336.6h0M1330.3 341.7h0M1331.9 345.3h0M1331.6 352.2h0M1334.5 357.1h0M1337.2 362.1h0M1339.6 368.8h0M1342.7 375.2h0M1346.6 381.3h0M1348.8 386.9h0M1349.2 394.5h0M1351.5 399.7h0M1355.1 406h0M1352.9 410.6h0M1356.5 415.2h0M1357 420.7h0M1362 424.7h0M1358.6 428.7h0M1364.8 435.4h0M1360.6 438.4h0M1362.7 446.2h0M1364.5 452.6h0M1366.3 457.3h0M1370.6 465.9h0M1372.7 472.3h0M1371.9 478h0M1372.8 481.2h0M1375.7 484.4h0M1374.6 489.9h0M1378.7 493.2h0M1381.7 500.2h0M1384.8 505.6h0M1385.5 511.5h0M1385.8 515.1h0M1386.8 518.9h0M1388.1 526.7h0M1390.3 530.7h0M1392.2 535.8h0M1390.7 541.3h0M1394.6 547.2h0M1393 550.5h0M1392.8 554.9h0M1396 562.7h0M1398.1 566h0M1398.8 572h0M1397.4 576.5h0M1399.1 583.3h0M1399.8 587.9h0M1401.6 593h0M1400.7 598.2h0M1402.8 602.9h0M1403.8 607.4h0M1404.2 611.9h0M1405.9 619.3h0M1406.2 623.2h0M1405.6 628.9h0M1406 632.8h0M1407.5 640.7h0M1409 644.6h0M1409.9 651.8h0M1411.5 658.2h0M1412.3 663.6h0M1413.1 669h0M1414 674.6h0M1414.4 678.2h0M1413.7 685.2h0M1414.4 690.6h0M1412.6 694.8h0M1413.3 702.4h0M1414.8 706.7h0M1414 713.3h0M1415 717.4h0M1416.6 721.7h0M1417.9 725.8h0M1418.4 731.2h0M1419.2 738.7h0M1418.9 745h0M1419.8 750.9h0M1421.7 755.1h0M1419 760.3h0M1421 766.9h0M1421.5 772.2h0M1425.6 777.4h0M1424.2 783.2h0M1426.8 789.8h0M1428.5 795.3h0M1429.8 799h0M1428.3 804.8h0M1429 809.3h0M1429.1 815.3h0M1430.3 819.2h0M1128.3 19.8h0M1129.2 26.4h0M1129.5 32.3h0M1129.6 38.1h0M1130.2 43.1h0M1131.2 49.5h0M1131.8 51.6h0M1133 59.4h0M1134.8 62.5h0M1137.1 69.8h0M1139 71.9h0M1144.9 76.3h0M1146.7 80.7h0M1149.4 84.3h0M1151.2 92.3h0M1153 95.9h0M1153.9 101.9h0M1162.2 107.4h0M1167.1 114.9h0M1172.4 121.3h0M1173.2 125.2h0M1179 130.3h0M1180.8 136.7h0M1189 141.8h0M1193.5 146.2h0M1197.4 151.2h0M1202.3 156.8h0M1207.5 162.7h0M1212.9 167.1h0M1216 170h0M1220.3 175.2h0M1225.3 180.1h0M1228.9 184.5h0M1235.1 190.4h0M1238.1 193.4h0M1241.4 199.5h0M1246.2 204.5h0M1247.9 210.2h0M1251.7 215.1h0M1256.4 217.8h0M1258.7 223.3h0M1257.7 229.9h0M1264 233.9h0M1267.4 240.3h0M1270.9 245.3h0M1276.5 250.8h0M1279 258.1h0M1282.4 261.6h0M1290.1 269.5h0M1293.4 272.6h0M1298.8 278.5h0M1301.9 283.9h0M1303.6 290.5h0M1303 296.3h0M1310.6 301.1h0M1311.2 307.1h0M1313.3 311.4h0M1319 316.6h0M1320.6 320.8h0M1320.2 327.1h0M1325.6 332.9h0M1329.1 336.9h0M1331.8 344.3h0M1333 350h0M1333.1 355.2h0M1337.5 362.3h0M1338.2 368.1h0M1341.5 372.4h0M1342.8 378.4h0M1347.7 386.1h0M1350 390.5h0M1350.5 394.3h0M1351.7 400.4h0M1355.4 407h0M1356.7 412.3h0M1359.7 417.9h0M1362.7 423.6h0M1363.2 427.1h0M1365.9 430.5h0M1366.7 438.3h0M1367.4 444h0M1369.6 447.3h0M1369.9 453h0M1368.4 458.3h0M1372.1 462.3h0M1374 469.5h0M1374.1 476.9h0M1373.5 482.4h0M1377.5 488.7h0M1379.3 494.2h0M1383.8 500.4h0M1382.6 507.4h0M1384.6 510.3h0M1384.4 517.7h0M1387 524.1h0M1387.1 531.3h0M1392.1 534.4h0M1392.7 540.9h0M1393.1 546.5h0M1393.2 552.8h0M1393.5 558h0M1397.1 564.6h0M1396.9 568.4h0M1397.8 574.6h0M1396.7 579.5h0M1399.9 582.6h0M1399.6 588.5h0M1400.7 594h0M1403.2 600.6h0M1403.6 606.2h0M1403.4 613.3h0M1404.7 617.9h0M1405.1 622.4h0M1406.5 629h0M1407 635.1h0M1407.9 640.2h0M1408.8 645h0M1410 649.3h0M1410.8 656.4h0M1411.2 661.8h0M1412.6 667.6h0M1413.4 674.3h0M1414.3 680h0M1414.8 685h0M1415.7 689h0M1414.2 693.1h0M1416.3 698.5h0M1412.6 702.7h0M1417.8 708.1h0M1416.3 713.5h0M1416.7 720.9h0M1417.6 725.3h0M1420 729.9h0M1419.2 737.1h0M1419.6 739.9h0M1419.6 746.4h0M1419.9 752.3h0M1421.8 754.5h0M1423.1 759h0M1421.8 765.9h0M1423.6 770.7h0M1422.1 775.2h0M1425.4 782.2h0M1426.5 787.3h0M1428.4 793.5h0M1427.1 798.6h0M1429.9 802.5h0M1431.7 807h0M1431.4 811.8h0M1433.3 817.2h0M1433.3 824.7h0" stroke="#00ffff" stroke-width="5.8" stroke-linecap="round" fill="none"/>
<polyline points="1128.5,24.5 1129,47.2 1135.3,69.9 1142.8,92.5 1157.8,115.2 1174.9,137.8 1196.3,160.5 1217.8,183.1 1235,205.8 1252.1,228.5 1269.2,251.1 1284.2,273.8 1296,296.4 1307.8,319.1 1318.5,341.7 1327,364.4 1338,387.1 1346,409.7 1356.8,432.4 1363.2,455 1370.9,477.7 1377.3,500.3 1382.4,523 1387.6,545.6 1392.7,568.3 1395.5,591 1398.5,613.6 1401.6,636.3 1405.6,658.9 1409.1,681.6 1412.3,704.2 1415,726.9 1417.1,749.6 1419,772.2 1424.4,794.9 1429,817.5" fill="none" stroke="#0000ff" stroke-width="2.6" stroke-linejoin="round"/><g fill="#0000ff"><circle cx="1128.5" cy="24.5" r="5.9"/><circle cx="1129" cy="47.2" r="5.9"/><circle cx="1135.3" cy="69.9" r="5.9"/><circle cx="1142.8" cy="92.5" r="5.9"/><circle cx="1157.8" cy="115.2" r="5.9"/><circle cx="1174.9" cy="137.8" r="5.9"/><circle cx="1196.3" cy="160.5" r="5.9"/><circle cx="1217.8" cy="183.1" r="5.9"/><circle cx="1235" cy="205.8" r="5.9"/><circle cx="1252.1" cy="228.5" r="5.9"/><circle cx="1269.2" cy="251.1" r="5.9"/><circle cx="1284.2" cy="273.8" r="5.9"/><circle cx="1296" cy="296.4" r="5.9"/><circle cx="1307.8" cy="319.1" r="5.9"/><circle cx="1318.5" cy="341.7" r="5.9"/><circle cx="1327" cy="364.4" r="5.9"/><circle cx="1338" cy="387.1" r="5.9"/><circle cx="1346" cy="409.7" r="5.9"/><circle cx="1356.8" cy="432.4" r="5.9"/><circle cx="1363.2" cy="455" r="5.9"/><circle cx="1370.9" cy="477.7" r="5.9"/><circle cx="1377.3" cy="500.3" r="5.9"/><circle cx="1382.4" cy="523" r="5.9"/><circle cx="1387.6" cy="545.6" r="5.9"/><circle cx="1392.7" cy="568.3" r="5.9"/><circle cx="1395.5" cy="591" r="5.9"/><circle cx="1398.5" cy="613.6" r="5.9"/><circle cx="1401.6" cy="636.3" r="5.9"/><circle cx="1405.6" cy="658.9" r="5.9"/><circle cx="1409.1" cy="681.6" r="5.9"/><circle cx="1412.3" cy="704.2" r="5.9"/><circle cx="1415" cy="726.9" r="5.9"/><circle cx="1417.1" cy="749.6" r="5.9"/><circle cx="1419" cy="772.2" r="5.9"/><circle cx="1424.4" cy="794.9" r="5.9"/><circle cx="1429" cy="817.5" r="5.9"/></g>
<polyline points="1127,19.1 1127,28.2 1127,37.2 1127,46.3 1127,55.4 1127,64.4 1128,73.5 1134.2,87.1 1143.9,109.7 1157.8,132.4 1171.7,155 1186.7,177.7 1202.3,200.4 1218.9,223 1235,245.7 1263.9,291 1290.6,336.3 1313.6,381.6 1328.5,426.9 1342.6,472.2 1376.7,585.5 1397.6,698.8" fill="none" stroke="#ff0000" stroke-width="8.2" stroke-linejoin="round"/><g fill="#ff0000"><circle cx="1127" cy="19.1" r="5.7"/><circle cx="1127" cy="28.2" r="5.7"/><circle cx="1127" cy="37.2" r="5.7"/><circle cx="1127" cy="46.3" r="5.7"/><circle cx="1127" cy="55.4" r="5.7"/><circle cx="1127" cy="64.4" r="5.7"/><circle cx="1128" cy="73.5" r="5.7"/><circle cx="1134.2" cy="87.1" r="5.7"/><circle cx="1143.9" cy="109.7" r="5.7"/><circle cx="1157.8" cy="132.4" r="5.7"/><circle cx="1171.7" cy="155" r="5.7"/><circle cx="1186.7" cy="177.7" r="5.7"/><circle cx="1202.3" cy="200.4" r="5.7"/><circle cx="1218.9" cy="223" r="5.7"/><circle cx="1235" cy="245.7" r="5.7"/><circle cx="1263.9" cy="291" r="5.7"/><circle cx="1290.6" cy="336.3" r="5.7"/><circle cx="1313.6" cy="381.6" r="5.7"/><circle cx="1328.5" cy="426.9" r="5.7"/><circle cx="1342.6" cy="472.2" r="5.7"/><circle cx="1376.7" cy="585.5" r="5.7"/><circle cx="1397.6" cy="698.8" r="5.7"/></g>
<polyline points="1126.7,19.1 1126.7,28.2 1126.7,37.2 1126.7,46.3 1126.7,55.4 1126.7,64.4 1128.8,73.5 1136,87.1 1142.8,109.7 1157.4,132.4 1176,155 1196.3,177.7 1215.4,200.4 1231.8,223 1248.9,245.7 1279.9,291 1306.7,336.3 1333,381.6 1352.9,426.9 1369.6,472.2 1397.7,585.5 1421.7,698.8" fill="none" stroke="#c98300" stroke-width="2.7" stroke-linejoin="round"/>
<polyline points="1126.7,19.1 1126.7,28.2 1126.7,37.2 1126.7,46.3 1126.7,55.4 1126.7,64.4 1128.8,73.5 1136,87.1 1142.8,109.7 1157.4,132.4 1176,155 1196.3,177.7 1215.4,200.4 1231.8,223 1248.9,245.7 1279.9,291 1306.7,336.3 1333,381.6 1352.9,426.9 1369.6,472.2 1397.7,585.5 1421.7,698.8" fill="none" stroke="#ffa500" stroke-width="1.7" stroke-linejoin="round"/>
<circle cx="1126.7" cy="19.1" r="6.0" fill="#ffa500" stroke="#d18a00" stroke-width="0.7"/><circle cx="1126.7" cy="28.2" r="6.0" fill="#ffa500" stroke="#d18a00" stroke-width="0.7"/><circle cx="1126.7" cy="37.2" r="6.0" fill="#ffa500" stroke="#d18a00" stroke-width="0.7"/><circle cx="1126.7" cy="46.3" r="6.0" fill="#ffa500" stroke="#d18a00" stroke-width="0.7"/><circle cx="1126.7" cy="55.4" r="6.0" fill="#ffa500" stroke="#d18a00" stroke-width="0.7"/><circle cx="1126.7" cy="64.4" r="6.0" fill="#ffa500" stroke="#d18a00" stroke-width="0.7"/><circle cx="1128.8" cy="73.5" r="6.0" fill="#ffa500" stroke="#d18a00" stroke-width="0.7"/><circle cx="1136" cy="87.1" r="6.0" fill="#ffa500" stroke="#d18a00" stroke-width="0.7"/><circle cx="1142.8" cy="109.7" r="6.0" fill="#ffa500" stroke="#d18a00" stroke-width="0.7"/><circle cx="1157.4" cy="132.4" r="6.0" fill="#ffa500" stroke="#d18a00" stroke-width="0.7"/><circle cx="1176" cy="155" r="6.0" fill="#ffa500" stroke="#d18a00" stroke-width="0.7"/><circle cx="1196.3" cy="177.7" r="6.0" fill="#ffa500" stroke="#d18a00" stroke-width="0.7"/><circle cx="1215.4" cy="200.4" r="6.0" fill="#ffa500" stroke="#d18a00" stroke-width="0.7"/><circle cx="1231.8" cy="223" r="6.0" fill="#ffa500" stroke="#d18a00" stroke-width="0.7"/><circle cx="1248.9" cy="245.7" r="6.0" fill="#ffa500" stroke="#d18a00" stroke-width="0.7"/><circle cx="1279.9" cy="291" r="6.0" fill="#ffa500" stroke="#d18a00" stroke-width="0.7"/><circle cx="1306.7" cy="336.3" r="6.0" fill="#ffa500" stroke="#d18a00" stroke-width="0.7"/><circle cx="1333" cy="381.6" r="6.0" fill="#ffa500" stroke="#d18a00" stroke-width="0.7"/><circle cx="1352.9" cy="426.9" r="6.0" fill="#ffa500" stroke="#d18a00" stroke-width="0.7"/><circle cx="1369.6" cy="472.2" r="6.0" fill="#ffa500" stroke="#d18a00" stroke-width="0.7"/><circle cx="1397.7" cy="585.5" r="6.0" fill="#ffa500" stroke="#d18a00" stroke-width="0.7"/><circle cx="1421.7" cy="698.8" r="6.0" fill="#ffa500" stroke="#d18a00" stroke-width="0.7"/>
<polyline points="1092.5,19.1 1093.6,28.2 1094.4,37.2 1095.3,46.3 1096.2,55.4 1101.2,64.4 1114.3,73.5 1131.8,87.1 1166.8,109.7 1187.3,132.4 1206.2,155 1224.2,177.7 1241.3,200.4 1254.2,223 1267.5,245.7 1292.4,291 1313.1,336.3 1328.8,381.6 1343.9,426.9 1358,472.2 1384.4,585.5 1404.3,698.8" fill="none" stroke="#008000" stroke-width="2.6" stroke-linejoin="round"/><g fill="#008000"><circle cx="1092.5" cy="19.1" r="6.0"/><circle cx="1093.6" cy="28.2" r="6.0"/><circle cx="1094.4" cy="37.2" r="6.0"/><circle cx="1095.3" cy="46.3" r="6.0"/><circle cx="1096.2" cy="55.4" r="6.0"/><circle cx="1101.2" cy="64.4" r="6.0"/><circle cx="1114.3" cy="73.5" r="6.0"/><circle cx="1131.8" cy="87.1" r="6.0"/><circle cx="1166.8" cy="109.7" r="6.0"/><circle cx="1187.3" cy="132.4" r="6.0"/><circle cx="1206.2" cy="155" r="6.0"/><circle cx="1224.2" cy="177.7" r="6.0"/><circle cx="1241.3" cy="200.4" r="6.0"/><circle cx="1254.2" cy="223" r="6.0"/><circle cx="1267.5" cy="245.7" r="6.0"/><circle cx="1292.4" cy="291" r="6.0"/><circle cx="1313.1" cy="336.3" r="6.0"/><circle cx="1328.8" cy="381.6" r="6.0"/><circle cx="1343.9" cy="426.9" r="6.0"/><circle cx="1358" cy="472.2" r="6.0"/><circle cx="1384.4" cy="585.5" r="6.0"/><circle cx="1404.3" cy="698.8" r="6.0"/></g>
<polyline points="1128.6,21.3 1128.6,26.1 1128.6,31.1 1128.6,36.4 1128.6,42.1 1128.6,48.3 1128.6,55 1128.6,62.5 1128.6,70.8 1137.5,80.1 1148.2,90.7 1157.8,102.9 1167.4,117 1178.1,133.3 1191.6,152.5 1206.4,175.1 1225.2,201.9 1248.2,233.8 1273.5,271.8 1301.3,317.3 1327.1,371.9 1351.1,437.5 1375.3,516.3 1396.4,611.2 1415.5,725.3" fill="none" stroke="#ff00ff" stroke-width="2.6" stroke-linejoin="round"/><g fill="#ff00ff"><circle cx="1128.6" cy="21.3" r="6.0"/><circle cx="1128.6" cy="26.1" r="6.0"/><circle cx="1128.6" cy="31.1" r="6.0"/><circle cx="1128.6" cy="36.4" r="6.0"/><circle cx="1128.6" cy="42.1" r="6.0"/><circle cx="1128.6" cy="48.3" r="6.0"/><circle cx="1128.6" cy="55" r="6.0"/><circle cx="1128.6" cy="62.5" r="6.0"/><circle cx="1128.6" cy="70.8" r="6.0"/><circle cx="1137.5" cy="80.1" r="6.0"/><circle cx="1148.2" cy="90.7" r="6.0"/><circle cx="1157.8" cy="102.9" r="6.0"/><circle cx="1167.4" cy="117" r="6.0"/><circle cx="1178.1" cy="133.3" r="6.0"/><circle cx="1191.6" cy="152.5" r="6.0"/><circle cx="1206.4" cy="175.1" r="6.0"/><circle cx="1225.2" cy="201.9" r="6.0"/><circle cx="1248.2" cy="233.8" r="6.0"/><circle cx="1273.5" cy="271.8" r="6.0"/><circle cx="1301.3" cy="317.3" r="6.0"/><circle cx="1327.1" cy="371.9" r="6.0"/><circle cx="1351.1" cy="437.5" r="6.0"/><circle cx="1375.3" cy="516.3" r="6.0"/><circle cx="1396.4" cy="611.2" r="6.0"/><circle cx="1415.5" cy="725.3" r="6.0"/></g>
</g>
<rect x="1062.5" y="19.4" width="396" height="795" fill="none" stroke="#000" stroke-width="1.39"/>
<path d="M1098.5 814.4v6M1159.5 814.4v6M1221.5 814.4v6M1282.5 814.4v6M1344.5 814.4v6M1406.5 814.4v6M1062.5 19.4h-6M1062.5 109.5h-6M1062.5 200.4h-6M1062.5 290.4h-6M1062.5 381.4h-6M1062.5 472.4h-6M1062.5 562.5h-6M1062.5 653.5h-6M1062.5 744.5h-6" stroke="#000" stroke-width="1.39" fill="none"/>
<text x="1096.9" y="849.6" font-size="17.6" text-anchor="middle" dy="0.36em" textLength="42.7" lengthAdjust="spacingAndGlyphs" transform="rotate(-45 1096.9 849.6)">1022</text>
<text x="1157.9" y="849.6" font-size="17.6" text-anchor="middle" dy="0.36em" textLength="42.7" lengthAdjust="spacingAndGlyphs" transform="rotate(-45 1157.9 849.6)">1023</text>
<text x="1219.9" y="849.6" font-size="17.6" text-anchor="middle" dy="0.36em" textLength="42.7" lengthAdjust="spacingAndGlyphs" transform="rotate(-45 1219.9 849.6)">1024</text>
<text x="1280.9" y="849.6" font-size="17.6" text-anchor="middle" dy="0.36em" textLength="42.7" lengthAdjust="spacingAndGlyphs" transform="rotate(-45 1280.9 849.6)">1025</text>
<text x="1342.9" y="849.6" font-size="17.6" text-anchor="middle" dy="0.36em" textLength="42.7" lengthAdjust="spacingAndGlyphs" transform="rotate(-45 1342.9 849.6)">1026</text>
<text x="1404.9" y="849.6" font-size="17.6" text-anchor="middle" dy="0.36em" textLength="42.7" lengthAdjust="spacingAndGlyphs" transform="rotate(-45 1404.9 849.6)">1027</text>
<text x="75.6" y="25.8" font-size="17.6" text-anchor="end" textLength="10.5" lengthAdjust="spacingAndGlyphs">0</text>
<text x="75.6" y="115.8" font-size="17.6" text-anchor="end" textLength="21.6" lengthAdjust="spacingAndGlyphs">20</text>
<text x="75.6" y="206.8" font-size="17.6" text-anchor="end" textLength="21.6" lengthAdjust="spacingAndGlyphs">40</text>
<text x="75.6" y="296.8" font-size="17.6" text-anchor="end" textLength="21.6" lengthAdjust="spacingAndGlyphs">60</text>
<text x="75.6" y="387.8" font-size="17.6" text-anchor="end" textLength="21.6" lengthAdjust="spacingAndGlyphs">80</text>
<text x="75.6" y="478.8" font-size="17.6" text-anchor="end" textLength="32.6" lengthAdjust="spacingAndGlyphs">100</text>
<text x="75.6" y="568.8" font-size="17.6" text-anchor="end" textLength="32.6" lengthAdjust="spacingAndGlyphs">120</text>
<text x="75.6" y="659.8" font-size="17.6" text-anchor="end" textLength="32.6" lengthAdjust="spacingAndGlyphs">140</text>
<text x="75.6" y="750.8" font-size="17.6" text-anchor="end" textLength="32.6" lengthAdjust="spacingAndGlyphs">160</text>
<text x="177.8" y="872" font-size="24" font-weight="bold" textLength="217.5" lengthAdjust="spacingAndGlyphs">Temperature (<tspan font-style="italic" font-weight="normal" font-size="16" dy="-8">o</tspan><tspan font-style="italic" font-weight="normal" dy="8">C</tspan>)</text>
<text x="725.4" y="871" font-size="24" font-weight="bold" textLength="94.4" lengthAdjust="spacingAndGlyphs">Salinity</text>
<text x="1153.7" y="896.4" font-size="24" font-weight="bold" textLength="211.3" lengthAdjust="spacingAndGlyphs">Density (kg m-3)</text>
<text x="0" y="0" font-size="24" font-weight="bold" textLength="125.4" lengthAdjust="spacingAndGlyphs" transform="translate(30 480.9) rotate(-90)">Depth (m)</text>
<text x="160.8" y="918.0" font-size="18.8" font-style="italic" textLength="422.4" lengthAdjust="spacingAndGlyphs">Ocean Heat Content (kJ/cm^2) - Glider: 48.5818,</text>
<text x="597.5" y="918.0" font-size="18.8" font-style="italic" textLength="144.3" lengthAdjust="spacingAndGlyphs">RTOFS: 58.6860,</text>
<text x="754.8" y="918.0" font-size="18.8" font-style="italic" textLength="227.3" lengthAdjust="spacingAndGlyphs">RTOFS (Parallel): 50.3897,</text>
<text x="994.1" y="918.0" font-size="18.8" font-style="italic" textLength="131.2" lengthAdjust="spacingAndGlyphs">ESPC: 40.5275,</text>
<text x="1137.8" y="918.0" font-size="18.8" font-style="italic" textLength="151.8" lengthAdjust="spacingAndGlyphs">CMEMS: 50.0619,</text>
<text x="1301.6" y="918.0" font-size="18.8" font-style="italic" textLength="113.6" lengthAdjust="spacingAndGlyphs">NESDIS: nan,</text>
<text x="1510.3" y="36.7" font-size="23" font-weight="bold" textLength="377.2" lengthAdjust="spacingAndGlyphs">Comparison Date: 2025-07-25</text>
<text x="1510.3" y="89.6" font-size="23" font-weight="bold" textLength="149.6" lengthAdjust="spacingAndGlyphs">Glider: ru38</text>
<text x="1510.3" y="116.2" font-size="23" font-weight="bold" textLength="142.6" lengthAdjust="spacingAndGlyphs">Profiles: 12</text>
<text x="1510.3" y="142.9" font-size="23" font-weight="bold" textLength="337.2" lengthAdjust="spacingAndGlyphs">First: 2025-07-25 03:31:18</text>
<text x="1510.3" y="169.5" font-size="23" font-weight="bold" textLength="332.7" lengthAdjust="spacingAndGlyphs">Last: 2025-07-25 14:59:56</text>
<text x="1510.3" y="196.2" font-size="23" font-weight="bold" textLength="337.7" lengthAdjust="spacingAndGlyphs">Method: Nearest-Neighbor</text>
<clipPath id="mc"><rect x="1548.9" y="259.9" width="396.3" height="313.2"/></clipPath>
<g clip-path="url(#mc)">
<rect x="1548.9" y="259.9" width="396.3" height="313.2" fill="#97b6e1"/>
<path d="M1925 250 L1915.5 260.3 L1904 268.3 L1891.7 276.2 L1884.6 285 L1879.3 297.4 L1879.3 309.8 L1882.8 325.7 L1891.7 345.1 L1897 357.5 L1902.3 375.2 L1905.8 389.3 L1906.7 401.7 L1905.5 410 L1903 420 L1899 428 L1894 431 L1888 427 L1884.6 420 L1879.3 415.3 L1874 410 L1872.2 405.2 L1865.2 389.3 L1859.9 378.7 L1854.6 368.1 L1856.3 354 L1851 343.4 L1840.4 331 L1829.8 323 L1822.8 325.7 L1812.2 333.6 L1805.1 329.2 L1798 320.4 L1787.4 316 L1773.3 314.2 L1762 316 L1755.6 318.6 L1745 320.5 L1735 321.5 L1729 325 L1732 330 L1737 336 L1738 343 L1735 347.5 L1730 342 L1723 338.5 L1716 341.5 L1711.1 344.2 L1704 346.5 L1700.5 346 L1691.7 339.8 L1679.3 336.3 L1668.7 334.5 L1654.6 330.6 L1644 332.8 L1629.8 339.8 L1617.5 349.5 L1605 356 L1594.5 362.8 L1587 369 L1583.9 375.2 L1580.3 389.3 L1581.5 405 L1580.3 420.6 L1574.2 429.4 L1571.5 441.8 L1572.4 455.9 L1570.6 468.3 L1570.6 480.7 L1573.3 493.1 L1576.8 501.9 L1581.2 512.5 L1587.4 523.1 L1596.2 535.5 L1599.8 544.3 L1608.6 556.7 L1621 559.3 L1628.1 563.7 L1635.1 569.9 L1647.5 565.5 L1659.9 563.7 L1668.7 561.1 L1681.1 559.3 L1689.9 556.7 L1700.5 549.6 L1706.7 537.2 L1708.5 524.9 L1710.2 514.3 L1714.6 510.7 L1732.3 506.3 L1744.7 502.8 L1755.6 501 L1771.5 501 L1777.7 503.7 L1780.3 509 L1776.8 516 L1769.7 524.9 L1766.2 533.7 L1764.4 544.3 L1762.7 551.4 L1760.9 562 L1757.4 572.6 L1756 590 L1540 590 L1540 250Z M1813.9 495.7 L1822.8 493.1 L1823.6 486 L1829.8 480.7 L1844 475.4 L1859.9 471 L1868.7 469.2 L1879.3 470.1 L1889.9 468.3 L1904 471.8 L1914.6 477.1 L1923.5 481.6 L1935.8 484.2 L1945.6 487.8 L1955 490 L1955 520 L1945.6 517.8 L1941.2 510.7 L1934.1 503.7 L1928.8 501 L1916.4 500.1 L1904 494.8 L1897 491.3 L1886.4 490.4 L1879.3 487.8 L1872.2 484.2 L1875.8 481.5 L1868 479 L1858.1 478.9 L1851 480.7 L1844 484.2 L1833.4 488.6 L1826.3 493.1 L1822.8 496.6 L1813.9 496.6Z M1857.5 498.5 L1856.8 500.8 L1854.8 502.4 L1852 503 L1849.2 502.4 L1847.2 500.8 L1846.5 498.5 L1847.2 496.2 L1849.2 494.6 L1852 494 L1854.8 494.6 L1856.8 496.2Z M1775.5 527.5 L1779 521.5 L1780.5 522.5 L1777.5 528.5Z M1935 440.5 L1939.5 435 L1942 428 L1944.5 424 L1950 423 L1950 450 L1945.5 448Z" fill="#d2b48c" stroke="#000" stroke-width="2.1" stroke-linejoin="round"/>
<path d="M1883.1 547 L1882.8 547.6 L1881.8 548.1 L1880.5 548.3 L1879.2 548.1 L1878.2 547.6 L1877.9 547 L1878.2 546.4 L1879.2 545.9 L1880.5 545.7 L1881.8 545.9 L1882.8 546.4Z M1907.4 539.3 L1907.2 539.8 L1906.5 540.5 L1905.3 541 L1904.1 541.2 L1903.1 541.1 L1902.6 540.7 L1902.8 540.2 L1903.5 539.5 L1904.7 539 L1905.9 538.8 L1906.9 538.9Z M1925.2 396.5 L1932 394.5 L1940 395.5 L1946 394.5 L1946 398.5 L1936 398 L1928 399Z M1938 385.5 L1943 384 L1946 388.5 L1941 389Z M1938 551.5 L1946 549.5 L1946 552.5 L1939 553.5Z" fill="#000" stroke="#000" stroke-width="1.2"/>
<g fill="#000"><circle cx="1921.5" cy="417" r="1.3"/><circle cx="1922" cy="420.5" r="1.1"/><circle cx="1923" cy="424" r="0.8"/><circle cx="1924.5" cy="410.5" r="0.8"/><circle cx="1899" cy="452.5" r="0.9"/><circle cx="1902" cy="451.5" r="0.9"/><circle cx="1910" cy="452" r="0.8"/><circle cx="1911.5" cy="455" r="0.8"/><circle cx="1913" cy="458" r="0.8"/><circle cx="1890" cy="430.5" r="2.2"/><circle cx="1894" cy="430.5" r="2.0"/><circle cx="1604" cy="352.5" r="2.2"/><circle cx="1597" cy="356.5" r="2.0"/><circle cx="1589" cy="362.5" r="2.2"/><circle cx="1583.5" cy="370.5" r="2.0"/><circle cx="1580" cy="380" r="2.3"/><circle cx="1578.5" cy="393" r="1.8"/><circle cx="1624.5" cy="343.2" r="2.0"/><circle cx="1628.5" cy="338.5" r="2.0"/><circle cx="1637.5" cy="335.5" r="1.5"/><circle cx="1683" cy="336.5" r="1.8"/><circle cx="1688" cy="337.5" r="1.6"/><circle cx="1699" cy="343.5" r="2.2"/><circle cx="1706" cy="343.5" r="2.0"/><circle cx="1713" cy="341.5" r="2.0"/><circle cx="1719" cy="339.8" r="1.8"/><circle cx="1731" cy="336" r="2.0"/><circle cx="1735" cy="341" r="2.0"/><circle cx="1757" cy="317" r="1.6"/><circle cx="1859.5" cy="372" r="1.8"/><circle cx="1857" cy="362" r="1.8"/><circle cx="1877" cy="412" r="1.8"/><circle cx="1882" cy="419" r="2.0"/><circle cx="1888" cy="424" r="1.8"/><circle cx="1883.5" cy="284" r="2.0"/><circle cx="1880.5" cy="293" r="2.0"/><circle cx="1898" cy="269" r="1.8"/><circle cx="1907" cy="265" r="1.6"/></g>
<path d="M1605 356 L1594.5 362.8 L1587 369 L1583.9 375.2 L1580.3 389.3 L1581.5 405" fill="none" stroke="#000" stroke-width="3.2" stroke-linejoin="round" stroke-linecap="round"/>
<path d="M1574.2 429.4 L1572 437 L1571.5 441.8" fill="none" stroke="#000" stroke-width="3.2" stroke-linejoin="round" stroke-linecap="round"/>
<path d="M1679.3 336.3 L1686 337.5 L1691.7 340.5 L1696 344.5 L1700.5 346.5 L1706 346 L1711.1 344.2 L1716 341.5 L1721 339.5" fill="none" stroke="#000" stroke-width="3.2" stroke-linejoin="round" stroke-linecap="round"/>
<path d="M1733.5 337 L1737.5 331.5 L1741.5 326" fill="none" stroke="#000" stroke-width="3.2" stroke-linejoin="round" stroke-linecap="round"/>
<path d="M1616.8 348.2 L1604 354.7 L1593.5 361.6 L1586 367.7 L1582.6 374.6 L1579.3 389.2" fill="none" stroke="#000" stroke-width="3.2" stroke-linejoin="round" stroke-linecap="round"/>
<path d="M1624 343.5 L1629 338.5" fill="none" stroke="#000" stroke-width="3.2" stroke-linejoin="round" stroke-linecap="round"/>
<path d="M1829.8 480.7 L1844 475.4 L1859.9 471" fill="none" stroke="#000" stroke-width="3.2" stroke-linejoin="round" stroke-linecap="round"/>
<path d="M1889.9 468.3 L1904 471.8 L1914.6 477.1 L1923.5 481.6 L1935.8 484.2 L1945.6 487.8" fill="none" stroke="#000" stroke-width="3.2" stroke-linejoin="round" stroke-linecap="round"/>
<path d="M1897 430.5 L1888 434.5 L1878 438 L1869 440.5" fill="none" stroke="#000" stroke-width="3.2" stroke-linejoin="round" stroke-linecap="round"/>
<path d="M1856.3 354 L1854.6 368.1 L1859.9 378.7" fill="none" stroke="#000" stroke-width="3.2" stroke-linejoin="round" stroke-linecap="round"/>
<path d="M1879.3 297.4 L1884.6 285 L1891.7 276.2 L1904 268.3 L1913 261.5" fill="none" stroke="#000" stroke-width="3.2" stroke-linejoin="round" stroke-linecap="round"/>
<path d="M1917.3 510.7 L1930 517 L1944.7 523.1" fill="none" stroke="#000" stroke-width="3.2" stroke-linejoin="round" stroke-linecap="round"/>
<path d="M1728.5 325 L1733 331 L1737.5 337 L1738 343" fill="none" stroke="#000" stroke-width="3.2" stroke-linejoin="round" stroke-linecap="round"/>
<ellipse cx="1714.6" cy="321.3" rx="5.3" ry="3.4" fill="#97b6e1" stroke="#000" stroke-width="1.3"/>
<ellipse cx="1688" cy="560.5" rx="7" ry="2.6" fill="#97b6e1" stroke="#000" stroke-width="1.2"/>
<path d="M1891.7 387.2 L1895.6 391.1 L1891.7 395 L1887.8 391.1Z" fill="#b5b5b5"/>
<path d="M1556 255 L1559.1 260 L1573.3 272.7 L1578.6 279.7 L1587.4 295.6 L1596.2 313.3 L1602.4 318.6 L1603.3 332.8 L1612.1 338.1 L1616.6 347.8" fill="none" stroke="#97b6e1" stroke-width="1.4" stroke-linejoin="round"/>
<path d="M1687.3 303.6 L1695.2 316 L1704 324.8 L1714.6 325.7 L1720 329.2 L1721.7 334.5 L1727 339" fill="none" stroke="#97b6e1" stroke-width="1.4" stroke-linejoin="round"/>
<path d="M1784.8 255 L1784.8 260.3 L1789.2 269.1 L1776.8 273.6 L1768 280.6 L1766.2 290.3 L1757.4 302.7 L1755.6 311.5" fill="none" stroke="#97b6e1" stroke-width="1.4" stroke-linejoin="round"/>
<path d="M1815.7 310.7 L1811.3 322.2 L1813 331" fill="none" stroke="#97b6e1" stroke-width="1.4" stroke-linejoin="round"/>
<path d="M1548.9 496.6 L1559.1 492.2 L1571.5 487.8" fill="none" stroke="#97b6e1" stroke-width="1.4" stroke-linejoin="round"/>
<path d="M1668.7 560.2 L1673 566 L1679.3 573.5" fill="none" stroke="#97b6e1" stroke-width="1.4" stroke-linejoin="round"/>
<path d="M1666 562 L1667 568 L1672 573.5" fill="none" stroke="#97b6e1" stroke-width="1.4" stroke-linejoin="round"/>
<path d="M1641.8 255 L1641.8 281.5 L1645.5 290 L1649 296 L1651 302.7 L1650 312 L1648.4 322.1 L1645.7 331" fill="none" stroke="#000" stroke-width="1.3" stroke-linejoin="round"/>
<path d="M1697 255 L1697 260 L1698.7 263.8 L1700.5 275.3 L1696 283 L1691.7 290.3 L1688 297 L1687.3 303.6 L1723.5 303.6 L1722.6 309.8 L1725.6 321.3 L1727 324.8" fill="none" stroke="#000" stroke-width="1.3" stroke-linejoin="round"/>
<path d="M1749.4 255 L1749.4 260 L1747.7 281.5 L1748.5 315.1 L1748.5 319" fill="none" stroke="#000" stroke-width="1.3" stroke-linejoin="round"/>
<path d="M1767.1 314 L1763.6 308 L1763.6 303.6 L1812.2 303.6" fill="none" stroke="#000" stroke-width="1.3" stroke-linejoin="round"/>
<path d="M1808.6 255 L1808.6 260 L1813.9 275.3 L1811.3 290.3 L1812.2 303.6 L1815.7 310.7 L1866.9 313.3 L1866.9 317.7 L1868.7 308 L1879.3 309.8" fill="none" stroke="#000" stroke-width="1.3" stroke-linejoin="round"/>
<path d="M1879.3 255 L1879.3 260.3 L1884.6 272.7 L1887.3 280.6" fill="none" stroke="#000" stroke-width="1.3" stroke-linejoin="round"/>
<path d="M1548.9 402.6 L1562.7 408.7 L1571.5 410.5 L1582.1 412.3" fill="none" stroke="#97b6e1" stroke-width="1.4"/>
<path d="M1548.9 402.6 L1562.7 408.7 L1571.5 410.5 L1582.1 412.3" fill="none" stroke="#000" stroke-width="1.3" stroke-dasharray="4 2"/>
</g>
<path d="M1945.2 259.9V573.1 H1548.9" fill="none" stroke="#000" stroke-width="1.3"/>
<path d="M1916 259.9H1945.2" fill="none" stroke="#000" stroke-width="1.3"/>
<circle cx="1826.4" cy="414.4" r="4.3" fill="#ff0000" stroke="#000" stroke-width="1.1"/>
<path d="M1549.5 259.9v-8.5M1549.5 573.1v8.5M1606.1 259.9v-8.5M1606.1 573.1v8.5M1662.6 259.9v-8.5M1662.6 573.1v8.5M1719.2 259.9v-8.5M1719.2 573.1v8.5M1775.7 259.9v-8.5M1775.7 573.1v8.5M1832.3 259.9v-8.5M1832.3 573.1v8.5M1888.8 259.9v-8.5M1888.8 573.1v8.5M1945.4 259.9v-8.5M1945.4 573.1v8.5M1548.9 573.9h-8.5M1945.2 573.9h8.5M1548.9 514.1h-8.5M1945.2 514.1h8.5M1548.9 453.1h-8.5M1945.2 453.1h8.5M1548.9 390.7h-8.5M1945.2 390.7h8.5M1548.9 326.6h-8.5M1945.2 326.6h8.5M1548.9 260.5h-8.5M1945.2 260.5h8.5" stroke="#000" stroke-width="3.0" fill="none"/>
<path d="M1568.4 259.9v-3M1568.4 573.1v3M1587.2 259.9v-3M1587.2 573.1v3M1624.9 259.9v-3M1624.9 573.1v3M1643.8 259.9v-3M1643.8 573.1v3M1681.5 259.9v-3M1681.5 573.1v3M1700.3 259.9v-3M1700.3 573.1v3M1738 259.9v-3M1738 573.1v3M1756.9 259.9v-3M1756.9 573.1v3M1794.6 259.9v-3M1794.6 573.1v3M1813.4 259.9v-3M1813.4 573.1v3M1851.1 259.9v-3M1851.1 573.1v3M1870 259.9v-3M1870 573.1v3M1907.7 259.9v-3M1907.7 573.1v3M1926.5 259.9v-3M1926.5 573.1v3M1548.9 554.1h-3M1945.2 554.1h3M1548.9 534.2h-3M1945.2 534.2h3M1548.9 493.9h-3M1945.2 493.9h3M1548.9 473.6h-3M1945.2 473.6h3M1548.9 432.5h-3M1945.2 432.5h3M1548.9 411.7h-3M1945.2 411.7h3M1548.9 369.5h-3M1945.2 369.5h3M1548.9 348.2h-3M1945.2 348.2h3M1548.9 304.8h-3M1945.2 304.8h3M1548.9 282.8h-3M1945.2 282.8h3" stroke="#000" stroke-width="1.6" fill="none"/>
<text x="1532" y="583.2" font-size="23" text-anchor="end" textLength="52.5" lengthAdjust="spacingAndGlyphs">18&#176;N</text>
<text x="1532" y="523.4" font-size="23" text-anchor="end" textLength="52.5" lengthAdjust="spacingAndGlyphs">21&#176;N</text>
<text x="1532" y="462.4" font-size="23" text-anchor="end" textLength="52.5" lengthAdjust="spacingAndGlyphs">24&#176;N</text>
<text x="1532" y="400" font-size="23" text-anchor="end" textLength="52.5" lengthAdjust="spacingAndGlyphs">27&#176;N</text>
<text x="1532" y="335.9" font-size="23" text-anchor="end" textLength="52.5" lengthAdjust="spacingAndGlyphs">30&#176;N</text>
<text x="1532" y="269.8" font-size="23" text-anchor="end" textLength="52.5" lengthAdjust="spacingAndGlyphs">33&#176;N</text>
<text x="1547.9" y="619.6" font-size="23" text-anchor="middle" dy="0.36em" textLength="61" lengthAdjust="spacingAndGlyphs" transform="rotate(-45 1547.9 619.6)">99&#176;W</text>
<text x="1604.5" y="619.6" font-size="23" text-anchor="middle" dy="0.36em" textLength="61" lengthAdjust="spacingAndGlyphs" transform="rotate(-45 1604.5 619.6)">96&#176;W</text>
<text x="1661" y="619.6" font-size="23" text-anchor="middle" dy="0.36em" textLength="61" lengthAdjust="spacingAndGlyphs" transform="rotate(-45 1661 619.6)">93&#176;W</text>
<text x="1717.6" y="619.6" font-size="23" text-anchor="middle" dy="0.36em" textLength="61" lengthAdjust="spacingAndGlyphs" transform="rotate(-45 1717.6 619.6)">90&#176;W</text>
<text x="1774.1" y="619.6" font-size="23" text-anchor="middle" dy="0.36em" textLength="61" lengthAdjust="spacingAndGlyphs" transform="rotate(-45 1774.1 619.6)">87&#176;W</text>
<text x="1830.7" y="619.6" font-size="23" text-anchor="middle" dy="0.36em" textLength="61" lengthAdjust="spacingAndGlyphs" transform="rotate(-45 1830.7 619.6)">84&#176;W</text>
<text x="1887.2" y="619.6" font-size="23" text-anchor="middle" dy="0.36em" textLength="61" lengthAdjust="spacingAndGlyphs" transform="rotate(-45 1887.2 619.6)">81&#176;W</text>
<text x="1943.8" y="619.6" font-size="23" text-anchor="middle" dy="0.36em" textLength="61" lengthAdjust="spacingAndGlyphs" transform="rotate(-45 1943.8 619.6)">78&#176;W</text>
<rect x="1658.9" y="638.9" width="176" height="178.4" rx="3.5" fill="#ffffff" fill-opacity="0.8" stroke="#cccccc" stroke-width="1.4"/>
<path d="M1667 659.7H1714.6" stroke="#0000ff" stroke-width="2.6"/>
<circle cx="1691.4" cy="659.7" r="5.9" fill="#0000ff"/>
<text x="1731.9" y="667.3" font-size="21" textLength="51" lengthAdjust="spacingAndGlyphs">ru38</text>
<path d="M1667 693.6H1714.6" stroke="#ff0000" stroke-width="2.6"/>
<circle cx="1691.4" cy="693.6" r="5.9" fill="#ff0000"/>
<text x="1731.9" y="701.2" font-size="21" textLength="70.5" lengthAdjust="spacingAndGlyphs">RTOFS</text>
<path d="M1667 727.5H1714.6" stroke="#ffa500" stroke-width="2.6"/>
<circle cx="1691.4" cy="727.5" r="5.9" fill="#ffa500"/>
<text x="1731.9" y="735.1" font-size="21" textLength="93" lengthAdjust="spacingAndGlyphs">RTOFS-P</text>
<path d="M1667 761.4H1714.6" stroke="#008000" stroke-width="2.6"/>
<circle cx="1691.4" cy="761.4" r="5.9" fill="#008000"/>
<text x="1731.9" y="769" font-size="21" textLength="56" lengthAdjust="spacingAndGlyphs">ESPC</text>
<path d="M1667 795.9H1714.6" stroke="#ff00ff" stroke-width="2.6"/>
<circle cx="1691.4" cy="795.9" r="5.9" fill="#ff00ff"/>
<text x="1731.9" y="803.5" font-size="21" textLength="81" lengthAdjust="spacingAndGlyphs">CMEMS</text>
</svg></body></html>
